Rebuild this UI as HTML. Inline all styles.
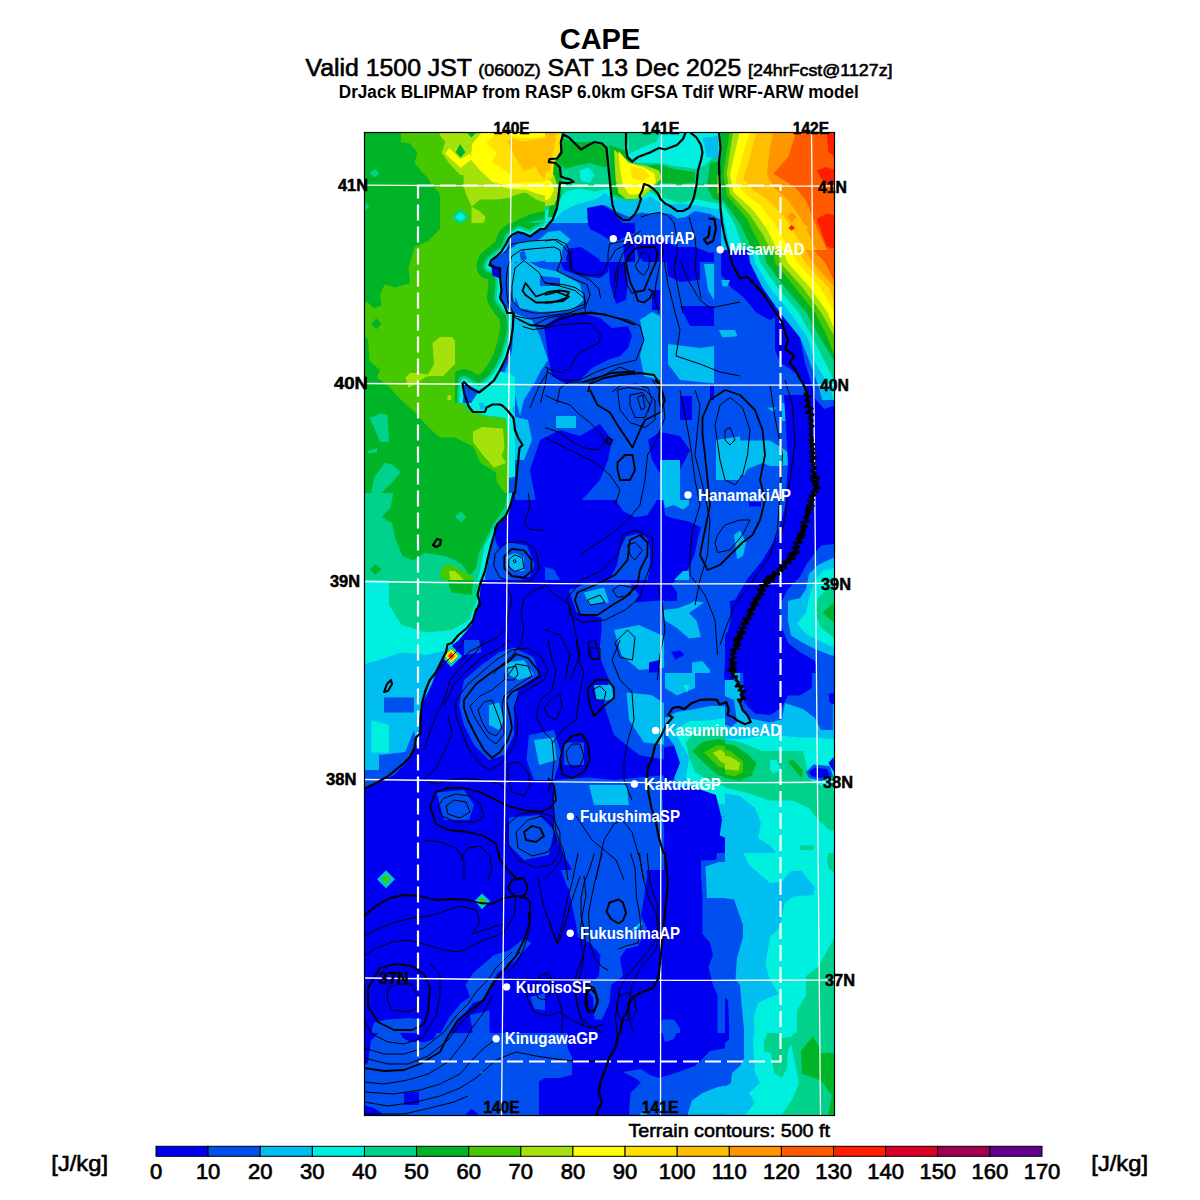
<!DOCTYPE html>
<html><head><meta charset="utf-8"><style>
html,body{margin:0;padding:0;background:#fff;width:1200px;height:1200px;overflow:hidden}
svg{display:block}
text{font-family:"Liberation Sans",sans-serif;fill:#000}
</style></head><body>
<svg width="1200" height="1200" viewBox="0 0 1200 1200">
<text x="600" y="49" font-size="29" font-weight="bold" text-anchor="middle">CAPE</text>
<text x="305.5" y="76" font-size="23" stroke="#000" stroke-width="0.6" textLength="587" lengthAdjust="spacingAndGlyphs">Valid 1500 JST <tspan font-size="16.5">(0600Z)</tspan> SAT 13 Dec 2025 <tspan font-size="16.5">[24hrFcst@1127z]</tspan></text>
<text x="338.8" y="98.3" font-size="17.5" font-weight="bold" textLength="520" lengthAdjust="spacingAndGlyphs">DrJack BLIPMAP from RASP 6.0km GFSA Tdif WRF-ARW model</text>

<defs><clipPath id="mc"><rect x="364" y="132" width="471" height="984"/></clipPath></defs>
<g clip-path="url(#mc)"><rect x="364" y="132" width="471" height="984" fill="#0050f0"/>
<g clip-path="url(#c0)"><rect x="365" y="133" width="180" height="180" fill="#46c800"/>
<polygon points="363.5,131.5 401.0,131.5 401.0,142.0 410.0,143.5 417.5,152.5 414.5,163.0 422.0,172.0 428.0,178.0 431.0,184.0 438.5,191.5 440.0,196.0 440.0,229.0 428.0,241.0 414.5,247.0 408.5,268.0 410.0,283.0 395.0,287.5 384.5,284.5 380.0,295.0 381.5,305.5 374.0,308.5 368.0,302.5 363.5,301.0" fill="#00b428"/>
<polygon points="369.5,173.5 374.8,169.0 379.2,173.2 374.8,177.2" fill="#00d28c"/>
<polygon points="363.5,200.5 369.5,206.5 363.5,212.5" fill="#00d28c"/>
<polygon points="439.1,132.1 545.9,132.1 545.9,203.0 536.2,199.5 527.5,193.4 523.1,192.5 513.5,196.0 510.0,197.8 496.0,199.5 480.2,199.5 471.5,206.5 466.2,194.2 463.6,186.4 463.6,175.0 460.1,175.0 448.8,162.8 441.8,153.1 445.2,141.8 440.0,135.6" fill="#a5e10a"/>
<polygon points="471.5,206.5 480.2,211.8 485.5,217.0 482.9,225.8 471.5,225.8" fill="#a5e10a"/>
<polygon points="466.2,132.1 476.8,132.1 471.5,137.4" fill="#00b428"/>
<polygon points="482.0,132.1 545.9,132.1 545.9,196.0 536.2,193.4 527.5,189.9 511.8,189.0 503.0,187.2 501.2,184.6 492.5,182.0 479.4,169.8 470.6,159.2 472.4,143.5" fill="#ffff00"/>
<polygon points="445.2,153.6 449.2,148.3 460.6,159.2 469.8,153.6 471.5,159.2 460.6,168.0" fill="#ffff00"/>
<polygon points="455.8,152.2 460.1,143.9 465.4,152.2 460.6,157.5" fill="#00b428"/>
<polygon points="496.0,132.1 510.0,132.1 511.8,136.5 527.5,138.2 545.9,136.5 545.9,182.0 536.2,182.0 511.8,182.9 510.9,174.1 501.2,168.0 491.6,161.9 496.9,153.1 486.4,142.6 492.5,137.4" fill="#ffe000"/>
<polygon points="507.4,140.9 512.6,138.2 522.2,141.8 545.9,138.2 545.9,179.4 538.9,174.1 536.2,166.2 524.0,171.5 518.8,163.6 512.6,152.2" fill="#ffbe00"/>
<polygon points="451.4,217.4 460.6,209.1 468.9,217.4 460.6,224.9" fill="#00d28c"/>
<polygon points="454.9,217.0 460.6,211.8 466.2,217.0 460.6,221.4" fill="#00f0e0"/>
<polygon points="476.0,314.5 476.0,290.5 483.5,268.0 489.5,250.0 500.0,230.5 515.0,221.5 530.0,214.0 546.5,211.0 546.5,314.5" fill="#00b428"/>
<polygon points="483.5,314.5 485.0,283.0 488.0,266.5 495.5,250.0 506.0,236.5 516.5,227.5 531.5,221.5 546.5,218.5 546.5,314.5" fill="#00d28c"/>
<polygon points="486.5,314.5 488.0,274.0 494.0,257.5 506.0,241.0 515.0,235.0 528.5,232.0 539.0,226.0 546.5,224.5 546.5,314.5" fill="#00f0e0"/>
<polygon points="491.0,314.5 491.0,268.0 500.0,253.0 509.0,239.5 519.5,233.5 527.0,238.0 540.5,229.0 546.5,227.5 546.5,314.5" fill="#00bef0"/>
<polygon points="498.5,256.0 509.0,241.0 518.0,238.0 515.0,247.0 509.0,253.0 504.5,268.0 503.0,314.5 497.0,314.5 500.0,280.0" fill="#0050f0"/>
<polygon points="490.2,265.0 497.0,265.0 500.0,274.0 498.5,280.0 491.0,277.0" fill="#0000f0"/>
</g>
<g clip-path="url(#c1)"><rect x="545" y="133" width="180" height="180" fill="#0050f0"/>
<polygon points="543.5,131.5 726.5,131.5 726.5,223.0 710.0,214.0 695.0,211.0 686.0,217.0 677.0,218.5 671.0,214.0 659.0,212.5 650.0,214.0 641.0,212.5 629.0,217.0 615.5,211.0 605.0,205.0 594.5,208.0 587.0,217.0 590.0,230.5 590.0,241.0 578.0,238.0 563.0,229.0 554.0,238.0 543.5,241.0" fill="#00bef0"/>
<polygon points="543.5,244.0 560.0,247.0 561.5,265.0 543.5,265.0" fill="#00bef0"/>
<polygon points="543.5,131.5 726.5,131.5 726.5,211.0 710.0,208.0 695.0,205.0 680.0,203.5 665.0,205.0 659.0,202.0 650.0,196.0 644.0,199.0 635.0,197.5 629.0,200.5 612.5,199.0 605.0,193.0 596.0,199.0 585.5,202.0 575.0,205.0 563.0,211.0 554.0,220.0 543.5,229.0" fill="#00f0e0"/>
<polygon points="543.5,131.5 608.0,131.5 609.5,148.0 611.0,178.0 609.5,188.5 594.5,191.5 579.5,188.5 566.0,191.5 560.0,197.5 554.0,208.0 543.5,211.0" fill="#00d28c"/>
<polygon points="608.0,131.5 629.0,131.5 626.0,157.0 638.0,163.0 659.0,163.0 674.0,166.0 687.5,167.5 695.0,169.0 704.0,166.0 713.0,157.0 726.5,157.0 726.5,205.0 710.0,202.0 695.0,199.0 680.0,203.5 668.0,199.0 659.0,197.5 650.0,191.5 641.0,199.0 629.0,202.0 617.0,199.0 611.0,196.0" fill="#00d28c"/>
<polygon points="629.0,131.5 662.0,131.5 656.0,142.0 641.0,148.0 629.0,154.0" fill="#00d28c"/>
<polygon points="702.5,137.5 717.5,136.0 719.0,158.5 707.0,157.0" fill="#00bef0"/>
<polygon points="579.5,170.5 588.5,167.5 594.5,175.0 590.0,182.5 581.0,181.0" fill="#00f0e0"/>
<polygon points="560.0,137.5 575.0,142.0 590.0,142.0 608.0,146.5 609.5,163.0 605.0,167.5 590.0,163.0 575.0,166.0 566.0,169.0 560.0,163.0" fill="#00b428"/>
<polygon points="554.0,155.5 561.5,155.5 561.5,196.0 554.0,217.0 548.0,217.0 551.0,193.0" fill="#00b428"/>
<polygon points="609.5,145.0 626.0,151.0 629.0,163.0 641.0,166.0 659.0,164.5 674.0,169.0 695.0,172.0 695.0,182.5 680.0,184.0 662.0,182.5 650.0,185.5 641.0,196.0 635.0,199.0 626.0,199.0 617.0,196.0 611.0,193.0" fill="#00b428"/>
<polygon points="710.0,163.0 726.5,160.0 726.5,202.0 713.0,199.0 707.0,185.5" fill="#00b428"/>
<polygon points="614.0,149.5 629.0,163.0 647.0,166.0 659.0,170.5 662.0,178.0 653.0,187.0 644.0,196.0 635.0,199.0 626.0,199.0 618.5,193.0 615.5,178.0" fill="#a5e10a"/>
<polygon points="543.5,170.5 554.0,175.0 560.0,193.0 554.0,205.0 543.5,206.5" fill="#a5e10a"/>
<polygon points="717.5,175.0 726.5,175.0 726.5,196.0 717.5,193.0" fill="#a5e10a"/>
<polygon points="618.5,151.0 629.0,163.0 644.0,167.5 654.5,173.5 656.0,182.5 647.0,188.5 638.0,194.5 629.0,194.5 623.0,185.5 620.0,169.0" fill="#ffff00"/>
<polygon points="543.5,178.0 551.0,181.0 554.0,190.0 549.5,199.0 543.5,200.5" fill="#ffff00"/>
<polygon points="630.5,166.0 644.0,169.0 650.0,176.5 642.5,181.0 632.0,178.0" fill="#ffe000"/>
<polygon points="543.5,131.5 561.5,131.5 560.0,151.0 554.0,163.0 552.5,178.0 543.5,181.0" fill="#ffe000"/>
<polygon points="543.5,131.5 557.0,131.5 554.0,148.0 549.5,170.5 543.5,173.5" fill="#ffbe00"/>
<polygon points="587.0,208.0 602.0,205.0 612.5,211.0 617.0,217.0 623.0,223.0 629.0,230.5 620.0,241.0 614.0,247.0 608.0,241.0 594.5,238.0 588.5,229.0" fill="#0000f0"/>
<polygon points="567.5,247.0 582.5,241.0 597.5,247.0 608.0,247.0 611.0,253.0 608.0,268.0 602.0,283.0 584.0,277.0 569.0,271.0 563.0,262.0" fill="#0000f0"/>
<polygon points="635.0,241.0 650.0,238.0 665.0,241.0 677.0,247.0 695.0,247.0 710.0,253.0 726.5,250.0 726.5,314.5 677.0,314.5 668.0,298.0 659.0,283.0 650.0,268.0 638.0,256.0" fill="#0000f0"/>
<polygon points="543.5,292.0 567.5,289.0 587.0,292.0 588.5,305.5 575.0,314.5 543.5,314.5" fill="#0000f0"/>
<polygon points="704.0,265.0 726.5,263.5 726.5,283.0 707.0,283.0" fill="#00bef0"/>
</g>
<g clip-path="url(#c2)"><rect x="725" y="133" width="120" height="180" fill="#0050f0"/>
<polygon points="723.5,241.0 734.0,256.0 743.0,280.0 762.5,298.0 770.0,314.5 723.5,314.5" fill="#0000f0"/>
<polygon points="723.5,131.5 846.5,131.5 846.5,314.5 776.0,314.5 762.5,287.5 747.5,268.0 734.0,247.0 723.5,230.5" fill="#00bef0"/>
<polygon points="723.5,131.5 846.5,131.5 846.5,314.5 780.5,314.5 768.5,286.0 755.0,265.0 737.0,239.5 723.5,224.5" fill="#00f0e0"/>
<polygon points="723.5,131.5 846.5,131.5 846.5,314.5 791.0,314.5 785.0,292.0 770.0,268.0 755.0,250.0 740.0,227.5 723.5,218.5" fill="#00d28c"/>
<polygon points="723.5,131.5 846.5,131.5 846.5,314.5 803.0,314.5 792.5,284.5 777.5,265.0 762.5,247.0 743.0,224.5 723.5,211.0" fill="#00b428"/>
<polygon points="723.5,131.5 738.5,131.5 734.0,146.5 723.5,149.5" fill="#00d28c"/>
<polygon points="755.0,131.5 846.5,131.5 846.5,314.5 815.0,314.5 809.0,298.0 797.0,278.5 782.0,260.5 767.0,241.0 747.5,218.5 723.5,206.5 723.5,173.5 740.0,164.5 752.0,149.5" fill="#46c800"/>
<polygon points="759.5,131.5 846.5,131.5 846.5,314.5 833.0,314.5 830.0,305.5 815.0,295.0 800.0,274.0 785.0,256.0 770.0,238.0 752.0,217.0 723.5,200.5 723.5,178.0 743.0,169.0 755.0,152.5" fill="#a5e10a"/>
<polygon points="764.0,131.5 846.5,131.5 846.5,298.0 834.5,295.0 818.0,283.0 804.5,268.0 789.5,253.0 774.5,235.0 755.0,214.0 723.5,194.5 723.5,182.5 746.0,172.0 759.5,154.0" fill="#ffff00"/>
<polygon points="773.0,131.5 846.5,131.5 846.5,277.0 834.5,277.0 815.0,268.0 797.0,250.0 777.5,230.5 761.0,211.0 740.0,196.0 731.0,191.5 734.0,182.5 747.5,175.0 767.0,163.0 770.0,148.0" fill="#ffe000"/>
<polygon points="777.5,131.5 846.5,131.5 846.5,268.0 830.0,265.0 813.5,253.0 800.0,238.0 788.0,226.0 774.5,208.0 755.0,197.5 740.0,193.0 752.0,181.0 770.0,172.0 777.5,155.5" fill="#ffbe00"/>
<polygon points="788.0,131.5 846.5,131.5 846.5,262.0 833.0,257.5 821.0,247.0 810.5,238.0 800.0,226.0 785.0,208.0 770.0,196.0 762.5,187.0 770.0,178.0 782.0,170.5 785.0,151.0" fill="#ff9600"/>
<polygon points="797.0,131.5 846.5,131.5 846.5,256.0 836.0,253.0 828.5,244.0 821.0,230.5 812.0,215.5 803.0,202.0 788.0,193.0 770.0,187.0 768.5,175.0 788.0,170.5 806.0,167.5 797.0,154.0 794.0,142.0" fill="#ff5a00"/>
<polygon points="786.5,216.2 791.0,211.0 795.5,216.2 791.0,221.5" fill="#ff9600"/>
<polygon points="797.0,227.5 802.2,222.2 807.5,227.5 802.2,232.8" fill="#ffbe00"/>
<polygon points="821.0,178.0 833.8,172.0 833.8,199.0 824.0,193.0" fill="#ff1e00"/>
<polygon points="815.0,220.0 830.0,217.0 833.8,223.0 833.8,245.5 828.5,238.0" fill="#ff1e00"/>
<polygon points="828.5,131.5 833.8,131.5 833.8,149.5 830.0,148.0" fill="#ff1e00"/>
<polygon points="830.0,235.0 833.8,235.0 833.8,244.0 831.5,244.0" fill="#dc0028"/>
</g>
<g clip-path="url(#c3)"><rect x="365" y="313" width="180" height="180" fill="#46c800"/>
<polygon points="363.5,334.0 368.0,340.0 369.5,361.0 380.0,370.0 377.0,377.5 387.5,385.0 398.0,397.0 414.5,412.0 428.0,427.0 440.0,437.5 455.0,437.5 473.0,446.5 480.5,463.0 495.5,472.0 497.0,482.5 506.0,494.5 363.5,494.5" fill="#00b428"/>
<polygon points="371.0,323.5 376.2,318.2 381.5,323.5 376.2,329.5" fill="#00b428"/>
<polygon points="488.0,311.5 497.0,311.5 500.0,328.0 509.0,328.0 509.0,373.0 497.0,379.0 492.5,370.0 494.0,358.0 491.0,343.0" fill="#00b428"/>
<polygon points="369.5,418.0 380.0,413.5 387.5,415.0 389.0,442.0 380.0,442.0 374.0,427.0" fill="#00d28c"/>
<polygon points="368.0,451.0 377.0,448.0 377.0,452.5 368.0,453.2" fill="#00d28c"/>
<polygon points="374.0,478.0 384.5,463.0 392.0,464.5 401.0,472.0 392.0,482.5 380.0,494.5 371.0,494.5" fill="#00d28c"/>
<polygon points="432.5,343.0 440.0,337.0 452.0,337.0 461.0,349.0 471.5,350.5 471.5,359.5 458.0,361.0 443.0,376.0 429.5,376.0 425.0,377.5 408.5,388.0 405.5,377.5 410.0,373.0 417.5,373.0 428.0,374.5 434.0,364.0" fill="#a5e10a"/>
<polygon points="470.0,373.0 473.0,371.5 473.0,380.5 470.0,382.0" fill="#a5e10a"/>
<polygon points="447.5,395.5 451.2,394.8 451.2,400.0 447.5,400.0" fill="#a5e10a"/>
<polygon points="473.0,431.5 482.0,427.0 503.0,428.5 504.5,448.0 501.5,455.5 506.0,463.0 494.0,467.5 482.0,454.0 473.0,442.0" fill="#a5e10a"/>
<polygon points="497.0,311.5 509.0,311.5 509.0,347.5 500.0,365.5 492.5,376.0 485.0,383.5 464.0,383.5 456.5,398.5 470.0,412.0 485.0,416.5 506.0,418.0 509.0,433.0 509.0,494.5 546.5,494.5 546.5,311.5" fill="#00d28c"/>
<polygon points="500.0,311.5 546.5,311.5 546.5,494.5 509.0,494.5 509.0,448.0 506.0,418.0 485.0,415.0 470.0,409.0 461.0,397.0 467.0,388.0 485.0,386.5 497.0,376.0 506.0,358.0 509.0,343.0 503.0,328.0" fill="#00f0e0"/>
<polygon points="512.0,311.5 546.5,311.5 546.5,478.0 524.0,478.0 515.0,463.0 515.0,440.5 516.5,421.0 512.0,409.0 521.0,397.0 515.0,385.0 513.5,373.0 512.0,358.0 513.5,343.0" fill="#00bef0"/>
<polygon points="479.0,403.0 483.5,401.5 485.0,409.0 480.5,409.8" fill="#00bef0"/>
<polygon points="513.5,311.5 546.5,311.5 546.5,331.0 530.0,331.0 522.5,325.0 515.0,322.0" fill="#0050f0"/>
<polygon points="534.5,352.0 545.0,353.5 545.0,358.0 537.5,359.5" fill="#0050f0"/>
<polygon points="528.5,428.5 536.0,427.0 536.0,433.0" fill="#0050f0"/>
<polygon points="539.0,445.0 546.5,442.0 546.5,457.0 540.5,454.0" fill="#0050f0"/>
<polygon points="509.0,460.0 546.5,460.0 546.5,478.0 509.0,478.0" fill="#00f0e0"/>
<polygon points="518.0,455.5 527.0,457.0 527.0,470.5 518.0,470.5" fill="#00d28c"/>
<polygon points="509.0,478.0 522.5,475.0 546.5,475.0 546.5,494.5 509.0,494.5" fill="#0050f0"/>
<polygon points="515.0,485.5 546.5,481.0 546.5,494.5 515.0,494.5" fill="#0000f0"/>
</g>
<g clip-path="url(#c4)"><rect x="545" y="313" width="180" height="180" fill="#0050f0"/>
<polygon points="554.0,311.5 635.0,311.5 644.0,320.5 641.0,335.5 644.0,349.0 635.0,358.0 611.0,362.5 593.0,367.0 582.5,376.0 575.0,385.0 564.5,383.5 554.0,373.0 552.5,364.0 557.0,355.0 561.5,343.0 554.0,334.0" fill="#0000f0"/>
<polygon points="674.0,311.5 726.5,311.5 726.5,322.0 710.0,325.0 687.5,325.0 677.0,320.5" fill="#0000f0"/>
<polygon points="543.5,436.0 554.0,430.0 575.0,433.0 590.0,442.0 608.0,436.0 611.0,427.0 617.0,445.0 612.5,463.0 608.0,494.5 543.5,494.5" fill="#0000f0"/>
<polygon points="611.0,415.0 620.0,412.0 629.0,421.0 635.0,433.0 632.0,448.0 623.0,442.0 615.5,433.0" fill="#0000f0"/>
<polygon points="647.0,433.0 662.0,427.0 677.0,430.0 687.5,445.0 690.5,463.0 680.0,467.5 665.0,463.0 659.0,454.0 650.0,454.0" fill="#0000f0"/>
<polygon points="680.0,397.0 686.0,395.5 704.0,409.0 695.0,421.0 683.0,422.5" fill="#0000f0"/>
<polygon points="714.5,400.0 725.0,397.0 725.0,410.5 716.0,410.5" fill="#0000f0"/>
<polygon points="692.0,472.0 704.0,470.5 710.0,485.5 707.0,494.5 692.0,494.5" fill="#0000f0"/>
<polygon points="650.0,311.5 662.0,311.5 662.0,328.0 672.5,329.5 683.0,335.5 680.0,349.0 674.0,356.5 662.0,358.0 653.0,346.0" fill="#00bef0"/>
<polygon points="665.0,358.0 677.0,358.0 692.0,358.0 707.0,355.0 716.0,343.0 726.5,337.0 726.5,362.5 708.5,365.5 698.0,377.5 683.0,383.5 671.0,391.0 665.0,379.0 668.0,365.5" fill="#00bef0"/>
<polygon points="543.5,397.0 554.0,403.0 575.0,418.0 570.5,424.0 554.0,421.0 543.5,418.0" fill="#00bef0"/>
<polygon points="543.5,457.0 551.0,454.0 554.0,475.0 548.0,478.0 543.5,478.0" fill="#00bef0"/>
<polygon points="558.5,479.5 569.0,476.5 575.0,484.0 567.5,490.0 560.0,487.0" fill="#00bef0"/>
<polygon points="659.0,463.0 668.0,463.0 677.0,472.0 680.0,494.5 659.0,494.5" fill="#00bef0"/>
<polygon points="714.5,439.0 726.5,436.0 726.5,463.0 717.5,460.0" fill="#00bef0"/>
<polygon points="672.5,404.5 677.0,406.0 675.5,412.0 672.5,410.5" fill="#00bef0"/>
</g>
<g clip-path="url(#c5)"><rect x="725" y="313" width="120" height="180" fill="#0050f0"/>
<polygon points="797.0,311.5 846.5,311.5 846.5,383.5 830.0,382.0 815.0,376.0 809.0,362.5 803.0,343.0 798.5,328.0" fill="#00bef0"/>
<polygon points="804.5,311.5 846.5,311.5 846.5,376.0 833.0,376.0 821.0,365.5 813.5,350.5 809.0,335.5" fill="#00f0e0"/>
<polygon points="812.0,311.5 846.5,311.5 846.5,355.0 830.0,352.0 821.0,343.0 815.0,328.0" fill="#00d28c"/>
<polygon points="818.0,311.5 846.5,311.5 846.5,349.0 833.0,346.0 822.5,335.5 819.5,322.0" fill="#00b428"/>
<polygon points="821.0,319.0 830.0,313.0 846.5,311.5 846.5,335.5 833.0,334.0 824.0,328.0" fill="#46c800"/>
<polygon points="828.5,311.5 846.5,311.5 846.5,322.0 833.0,319.0" fill="#a5e10a"/>
<polygon points="776.0,311.5 783.5,311.5 788.0,328.0 797.0,347.5 803.0,370.0 809.0,383.5 815.0,397.0 824.0,406.0 833.8,397.0 846.5,397.0 846.5,494.5 794.0,494.5 795.5,433.0 803.0,418.0 797.0,406.0 803.0,397.0 794.0,385.0 785.0,370.0 779.0,358.0 776.0,335.5" fill="#0000f0"/>
<polygon points="815.0,398.5 833.8,397.0 833.8,406.0 824.0,409.0" fill="#0050f0"/>
<polygon points="723.5,331.0 734.0,329.5 737.0,335.5 728.0,341.5 723.5,341.5" fill="#00bef0"/>
<polygon points="767.0,407.5 776.0,407.5 773.0,412.0" fill="#00bef0"/>
<polygon points="782.0,403.0 789.5,403.0 792.5,421.0 782.0,421.0" fill="#00bef0"/>
<polygon points="723.5,440.5 770.0,440.5 782.0,448.0 792.5,455.5 792.5,464.5 782.0,466.0 770.0,466.0 762.5,463.0 747.5,469.0 744.5,475.0 734.0,475.0 723.5,470.5" fill="#00bef0"/>
<polygon points="723.5,430.0 728.0,430.0 734.0,440.5 728.0,446.5 723.5,445.0" fill="#0000f0"/>
<polygon points="723.5,406.0 728.0,407.5 728.0,410.5 723.5,410.5" fill="#0000f0"/>
</g>
<g clip-path="url(#c6)"><rect x="365" y="493" width="180" height="180" fill="#00f0e0"/>
<polygon points="363.5,491.5 509.0,491.5 506.0,515.5 495.5,526.0 485.0,545.5 482.0,560.5 479.0,575.5 473.0,590.5 470.0,601.0 458.0,607.0 446.0,613.0 443.0,625.0 431.0,628.0 419.0,626.5 410.0,620.5 398.0,607.0 383.0,598.0 371.0,589.0 363.5,586.0" fill="#00d28c"/>
<polygon points="393.5,491.5 507.5,491.5 504.5,508.0 494.0,523.0 488.0,535.0 479.0,553.0 476.0,568.0 470.0,575.5 461.0,563.5 446.0,556.0 425.0,553.0 413.0,560.5 402.5,556.0 395.0,538.0 392.0,523.0 381.5,517.0 390.5,508.0" fill="#00b428"/>
<polygon points="369.5,569.5 375.5,564.2 381.5,569.5 375.5,574.8" fill="#00b428"/>
<polygon points="455.0,516.2 461.0,511.8 466.2,517.0 461.0,522.2" fill="#00d28c"/>
<polygon points="441.5,568.0 449.0,563.5 458.0,568.0 473.0,577.0 473.0,598.0 467.0,595.0 458.0,586.0 446.0,583.0 440.0,577.0" fill="#46c800"/>
<polygon points="449.0,571.0 455.0,571.0 464.0,580.0 455.0,583.0 450.5,581.5" fill="#a5e10a"/>
<polygon points="380.0,653.5 402.5,649.0 422.0,643.0 440.0,641.5 449.0,643.0 458.0,637.0 470.0,622.0 476.0,602.5 480.5,586.0 485.0,577.0 488.0,563.5 489.5,550.0 494.0,538.0 500.0,527.5 507.5,515.5 513.5,491.5 546.5,491.5 546.5,674.5 374.0,674.5 375.5,661.0" fill="#00bef0"/>
<polygon points="485.0,577.0 489.5,556.0 494.0,538.0 503.0,527.5 509.0,514.0 513.5,491.5 546.5,491.5 546.5,674.5 419.0,674.5 422.0,662.5 440.0,661.0 446.0,649.0 458.0,641.5 473.0,628.0 479.0,613.0 488.0,602.5 497.0,601.0 488.0,589.0" fill="#0050f0"/>
<polygon points="485.0,601.0 494.0,601.0 500.0,610.0 494.0,619.0 482.0,625.0 473.0,628.0 476.0,613.0" fill="#00bef0"/>
<polygon points="494.0,527.5 509.0,514.0 513.5,491.5 546.5,491.5 546.5,583.0 530.0,581.5 515.0,577.0 509.0,563.5 500.0,550.0 495.5,541.0" fill="#0000f0"/>
<polygon points="497.0,550.0 509.0,542.5 527.0,545.5 534.5,565.0 530.0,577.0 515.0,577.0 501.5,568.0" fill="#0050f0"/>
<polygon points="507.5,556.0 515.0,553.0 524.0,557.5 524.0,571.0 513.5,571.0 507.5,563.5" fill="#00bef0"/>
<polygon points="488.0,583.0 500.0,584.5 515.0,590.5 530.0,590.5 546.5,586.0 546.5,674.5 455.0,674.5 461.0,658.0 473.0,650.5 482.0,640.0 500.0,634.0 503.0,628.0 497.0,620.5 500.0,613.0 494.0,601.0" fill="#0000f0"/>
<polygon points="507.5,650.5 546.5,649.0 546.5,674.5 507.5,674.5" fill="#0050f0"/>
<polygon points="506.0,634.0 515.0,634.0 515.0,643.0 506.0,643.0" fill="#00bef0"/>
<polygon points="507.5,665.5 522.5,665.5 522.5,674.5 507.5,674.5" fill="#00bef0"/>
<polygon points="443.0,655.8 450.5,647.5 458.8,655.8 450.5,664.0" fill="#00d28c"/>
<polygon points="444.5,655.8 450.5,649.8 456.8,655.8 450.5,661.8" fill="#ffff00"/>
<polygon points="446.0,655.8 450.5,651.2 455.0,655.8 450.5,660.2" fill="#ff9600"/>
<polygon points="447.5,655.8 450.5,652.8 453.5,655.8 450.5,658.8" fill="#ff1e00"/>
</g>
<g clip-path="url(#c7)"><rect x="545" y="493" width="180" height="180" fill="#0000f0"/>
<polygon points="614.0,491.5 657.5,491.5 656.0,502.0 647.0,515.5 635.0,517.0 623.0,511.0 617.0,502.0" fill="#0050f0"/>
<polygon points="662.0,491.5 726.5,491.5 726.5,674.5 662.0,674.5 659.0,643.0 647.0,631.0 638.0,622.0 650.0,610.0 662.0,601.0 677.0,601.0 677.0,592.0 671.0,584.5 680.0,577.0 689.0,568.0 695.0,553.0 698.0,538.0 701.0,527.5 689.0,521.5 674.0,518.5 665.0,515.5" fill="#0050f0"/>
<polygon points="575.0,598.0 584.0,589.0 597.5,583.0 611.0,577.0 617.0,565.0 620.0,550.0 626.0,536.5 638.0,533.5 647.0,538.0 650.0,550.0 650.0,568.0 647.0,583.0 641.0,601.0 629.0,610.0 611.0,613.0 599.0,616.0 578.0,616.0" fill="#0050f0"/>
<polygon points="543.5,566.5 554.0,569.5 560.0,580.0 543.5,581.5" fill="#0050f0"/>
<polygon points="611.0,628.0 626.0,622.0 638.0,625.0 650.0,634.0 659.0,643.0 665.0,674.5 620.0,674.5 614.0,658.0 612.5,643.0" fill="#0050f0"/>
<polygon points="662.0,491.5 689.0,491.5 689.0,505.0 683.0,509.5 674.0,505.0 665.0,508.0" fill="#00bef0"/>
<polygon points="674.0,580.0 683.0,571.0 689.0,571.0 689.0,580.0" fill="#00bef0"/>
<polygon points="662.0,610.0 677.0,608.5 689.0,604.0 695.0,601.0 704.0,602.5 689.0,613.0 696.5,620.5 701.0,637.0 689.0,638.5 677.0,628.0 665.0,620.5" fill="#00bef0"/>
<polygon points="618.5,632.5 626.0,631.0 638.0,637.0 650.0,643.0 659.0,655.0 662.0,674.5 638.0,674.5 629.0,662.5 623.0,646.0" fill="#00bef0"/>
<polygon points="692.0,662.5 702.5,661.0 710.0,670.0 710.0,674.5 692.0,674.5" fill="#00bef0"/>
<polygon points="650.0,491.5 656.0,491.5 656.0,497.5 650.0,497.5" fill="#00f0e0"/>
<polygon points="671.0,652.0 680.0,650.5 684.5,655.0 675.5,659.5" fill="#0000f0"/>
<polygon points="648.5,664.0 653.0,662.5 656.0,670.0 650.0,671.5" fill="#0000f0"/>
</g>
<g clip-path="url(#c8)"><rect x="725" y="493" width="120" height="180" fill="#0000f0"/>
<polygon points="723.5,491.5 794.0,491.5 791.0,511.0 788.0,530.5 782.0,550.0 774.5,563.5 764.0,577.0 750.5,589.0 743.0,598.0 740.0,613.0 734.0,625.0 723.5,637.0" fill="#0050f0"/>
<polygon points="788.0,589.0 800.0,577.0 806.0,565.0 815.0,553.0 821.0,545.5 833.8,544.0 846.5,544.0 846.5,674.5 818.0,674.5 815.0,661.0 800.0,652.0 788.0,643.0 782.0,628.0 779.0,607.0" fill="#0050f0"/>
<polygon points="788.0,601.0 800.0,598.0 806.0,589.0 809.0,574.0 818.0,565.0 833.8,557.5 846.5,557.5 846.5,658.0 830.0,655.0 815.0,649.0 803.0,643.0 791.0,635.5 788.0,620.5" fill="#00bef0"/>
<polygon points="797.0,623.5 806.0,613.0 809.0,598.0 815.0,580.0 822.5,571.0 833.8,568.0 846.5,568.0 846.5,652.0 830.0,646.0 818.0,640.0 806.0,634.0" fill="#00f0e0"/>
<polygon points="815.0,613.0 818.0,598.0 827.0,589.0 833.8,586.0 846.5,586.0 846.5,640.0 833.0,637.0 821.0,628.0" fill="#00d28c"/>
<polygon points="822.5,613.0 833.8,602.5 833.8,622.0" fill="#00b428"/>
<polygon points="734.0,535.0 740.0,530.5 746.0,542.5 743.0,556.0 737.0,559.0 735.5,545.5" fill="#00bef0"/>
<polygon points="749.0,502.0 761.0,502.0 761.0,506.5 749.0,506.5" fill="#0000f0"/>
<polygon points="729.5,601.0 744.5,598.0 747.5,610.0 740.0,622.0 731.0,619.0" fill="#0000f0"/>
</g>
<g clip-path="url(#c9)"><rect x="365" y="673" width="180" height="180" fill="#0000f0"/>
<polygon points="363.5,671.5 414.5,671.5 419.0,682.0 422.0,695.5 420.5,718.0 419.0,733.0 410.0,748.0 395.0,763.0 380.0,769.0 363.5,770.5" fill="#00bef0"/>
<polygon points="384.5,697.0 396.5,698.5 402.5,709.0 384.5,712.0" fill="#0050f0"/>
<polygon points="405.5,715.0 413.0,712.0 419.0,727.0 410.0,733.0 404.0,722.5" fill="#0050f0"/>
<polygon points="414.5,671.5 422.0,671.5 425.0,688.0 422.0,725.5 419.0,733.0 416.0,718.0" fill="#0050f0"/>
<polygon points="363.5,671.5 374.0,671.5 371.0,685.0 363.5,691.0" fill="#00f0e0"/>
<polygon points="363.5,730.0 374.0,722.5 383.0,727.0 389.0,739.0 384.5,751.0 374.0,754.0 363.5,751.0" fill="#00f0e0"/>
<polygon points="363.5,763.0 380.0,763.0 395.0,757.0 410.0,748.0 407.0,757.0 395.0,766.0 380.0,770.5 363.5,770.5" fill="#0050f0"/>
<polygon points="480.5,701.5 494.0,698.5 500.0,703.0 503.0,712.0 504.5,730.0 494.0,730.0 488.0,718.0 482.0,710.5" fill="#0050f0"/>
<polygon points="503.0,671.5 546.5,671.5 546.5,682.0 530.0,682.0 515.0,688.0 506.0,691.0" fill="#0050f0"/>
<polygon points="485.0,700.0 494.0,688.0 506.0,679.0 506.0,703.0 497.0,703.0" fill="#0050f0"/>
<polygon points="530.0,742.0 545.0,739.0 546.5,778.0 542.0,778.0 536.0,763.0 530.0,751.0" fill="#0050f0"/>
</g>
<g clip-path="url(#c10)"><rect x="545" y="673" width="180" height="180" fill="#0050f0"/>
<polygon points="543.5,671.5 585.5,671.5 584.0,691.0 587.0,718.0 575.0,730.0 560.0,739.0 557.0,763.0 555.5,782.5 543.5,782.5" fill="#0000f0"/>
<polygon points="614.0,671.5 629.0,671.5 632.0,688.0 626.0,703.0 617.0,700.0" fill="#0000f0"/>
<polygon points="590.0,718.0 605.0,706.0 617.0,712.0 626.0,725.5 635.0,742.0 650.0,745.0 662.0,748.0 677.0,745.0 687.5,754.0 689.0,769.0 680.0,778.0 665.0,781.0 650.0,790.0 641.0,797.5 629.0,793.0 615.5,787.0 608.0,778.0 593.0,781.0 590.0,763.0 594.5,740.5" fill="#0000f0"/>
<polygon points="662.0,790.0 672.5,793.0 680.0,808.0 695.0,823.0 710.0,829.0 726.5,838.0 726.5,854.5 665.0,854.5 659.0,823.0" fill="#0000f0"/>
<polygon points="543.5,800.5 554.0,793.0 563.0,805.0 575.0,823.0 572.0,838.0 560.0,854.5 543.5,854.5" fill="#0000f0"/>
<polygon points="602.0,823.0 617.0,820.0 629.0,830.5 635.0,854.5 599.0,854.5" fill="#0000f0"/>
<polygon points="626.0,703.0 641.0,706.0 659.0,703.0 662.0,718.0 659.0,736.0 650.0,740.5 638.0,739.0 632.0,730.0" fill="#00bef0"/>
<polygon points="599.0,692.5 608.0,691.0 608.0,701.5 600.5,701.5" fill="#00bef0"/>
<polygon points="665.0,671.5 695.0,671.5 695.0,688.0 677.0,695.5 665.0,688.0" fill="#00bef0"/>
<polygon points="683.0,685.0 689.0,685.0 687.5,692.5" fill="#00f0e0"/>
<polygon points="665.0,718.0 677.0,712.0 695.0,709.0 710.0,706.0 726.5,706.0 726.5,817.0 710.0,814.0 695.0,805.0 680.0,793.0 674.0,778.0 680.0,763.0 674.0,745.0 665.0,733.0" fill="#00bef0"/>
<polygon points="674.0,730.0 689.0,721.0 704.0,721.0 726.5,718.0 726.5,805.0 710.0,802.0 695.0,793.0 686.0,778.0 689.0,757.0 680.0,742.0" fill="#00f0e0"/>
<polygon points="686.0,742.0 695.0,733.0 710.0,730.0 726.5,730.0 726.5,787.0 710.0,781.0 695.0,772.0 689.0,757.0" fill="#00d28c"/>
<polygon points="692.0,751.0 702.5,742.0 717.5,739.0 726.5,740.5 726.5,778.0 717.5,775.0 704.0,763.0" fill="#00b428"/>
<polygon points="704.0,752.5 717.5,745.0 726.5,746.5 726.5,769.0 717.5,766.0" fill="#46c800"/>
<polygon points="713.0,752.5 720.5,749.5 726.5,754.0 726.5,764.5 720.5,761.5" fill="#a5e10a"/>
<polygon points="695.0,823.0 710.0,815.5 726.5,817.0 726.5,838.0 710.0,832.0" fill="#00bef0"/>
</g>
<g clip-path="url(#c11)"><rect x="725" y="673" width="120" height="180" fill="#00f0e0"/>
<polygon points="723.5,671.5 846.5,671.5 846.5,739.0 830.0,739.0 815.0,737.5 800.0,737.5 785.0,736.0 762.5,736.0 740.0,739.0 723.5,739.0" fill="#00bef0"/>
<polygon points="723.5,793.0 740.0,796.0 755.0,808.0 761.0,823.0 758.0,838.0 770.0,845.5 777.5,854.5 723.5,854.5" fill="#00bef0"/>
<polygon points="740.0,671.5 846.5,671.5 846.5,688.0 833.0,703.0 833.0,730.0 821.0,730.0 815.0,718.0 803.0,709.0 785.0,703.0 782.0,719.5 770.0,722.5 747.5,718.0 740.0,703.0" fill="#0050f0"/>
<polygon points="723.5,695.5 734.0,700.0 737.0,722.5 731.0,727.0 723.5,724.0" fill="#0050f0"/>
<polygon points="743.0,671.5 812.0,671.5 812.0,688.0 800.0,695.5 788.0,695.5 782.0,707.5 770.0,715.0 755.0,713.5 744.5,703.0" fill="#0000f0"/>
<polygon points="828.5,694.0 833.8,692.5 833.8,704.5 830.0,703.0" fill="#0000f0"/>
<polygon points="723.5,739.0 740.0,742.0 762.5,751.0 785.0,751.0 803.0,751.0 806.0,763.0 809.0,778.0 822.5,787.0 833.0,787.0 833.8,793.0 846.5,793.0 846.5,830.5 830.0,830.5 818.0,820.0 809.0,808.0 792.5,800.5 770.0,800.5 747.5,793.0 723.5,787.0" fill="#00d28c"/>
<polygon points="723.5,743.5 734.0,745.0 747.5,754.0 756.5,763.0 752.0,775.0 740.0,781.0 723.5,778.0" fill="#00b428"/>
<polygon points="788.0,761.5 792.5,759.2 803.0,770.5 801.5,778.0 794.0,769.0" fill="#00b428"/>
<polygon points="723.5,749.5 731.0,751.0 743.0,761.5 743.0,772.0 734.0,776.5 723.5,773.5" fill="#46c800"/>
<polygon points="723.5,755.5 731.0,757.0 740.0,763.0 738.5,770.5 723.5,769.0" fill="#a5e10a"/>
<polygon points="770.0,760.0 776.0,760.0 782.0,770.5 773.0,773.5 770.0,769.0" fill="#00f0e0"/>
<polygon points="806.0,757.0 818.0,751.0 830.0,757.0 833.0,766.0 815.0,766.0" fill="#00f0e0"/>
<polygon points="806.0,772.0 813.5,764.5 830.0,766.0 833.0,776.5 821.0,781.0 809.0,778.0" fill="#0050f0"/>
<polygon points="809.0,772.0 815.0,767.5 827.0,769.0 830.0,775.0 821.0,778.0 812.0,776.5" fill="#0000f0"/>
<polygon points="828.5,763.0 833.8,757.0 833.8,772.0" fill="#0000f0"/>
<polygon points="800.0,845.5 813.5,845.5 813.5,850.0 800.0,850.0" fill="#00d28c"/>
</g>
<g clip-path="url(#c12)"><rect x="365" y="853" width="180" height="180" fill="#0000f0"/>
<polygon points="465.5,985.0 473.0,973.0 494.0,955.0 509.0,950.5 524.0,938.5 531.5,943.0 524.0,950.5 515.0,961.0 497.0,973.0 491.0,985.0 482.0,1000.0 473.0,1003.0 461.0,1018.0 449.0,1034.5 440.0,1034.5 449.0,1018.0 461.0,1003.0 470.0,997.0" fill="#0050f0"/>
<polygon points="374.0,1022.5 387.5,1019.5 410.0,1018.0 422.0,1019.5 416.0,1034.5 371.0,1034.5" fill="#0050f0"/>
<polygon points="530.0,997.0 542.0,994.0 546.5,992.5 546.5,1010.5 534.5,1009.0" fill="#0050f0"/>
<polygon points="539.0,851.5 546.5,851.5 546.5,862.0 542.0,859.0" fill="#0050f0"/>
<polygon points="470.0,1015.0 489.5,1010.5 489.5,1034.5 473.0,1034.5" fill="#0050f0"/>
<polygon points="377.0,879.2 386.0,870.2 395.0,879.2 386.0,888.2" fill="#00bef0"/>
<polygon points="379.2,879.2 386.0,872.5 392.8,879.2 386.0,886.0" fill="#00d28c"/>
<polygon points="382.2,879.2 386.0,875.5 389.8,879.2 386.0,883.0" fill="#46c800"/>
<polygon points="474.5,901.0 482.0,893.5 490.2,901.0 482.0,909.2" fill="#00bef0"/>
<polygon points="476.8,901.0 482.0,895.8 488.0,901.0 482.0,907.0" fill="#00d28c"/>
<polygon points="479.0,901.0 482.0,898.0 485.0,901.0 482.0,904.0" fill="#46c800"/>
</g>
<g clip-path="url(#c13)"><rect x="545" y="853" width="180" height="180" fill="#0000f0"/>
<polygon points="572.0,871.0 584.0,862.0 596.0,851.5 644.0,851.5 647.0,875.5 644.0,898.0 641.0,916.0 647.0,928.0 638.0,946.0 626.0,949.0 620.0,958.0 623.0,976.0 611.0,985.0 609.5,1003.0 602.0,1019.5 594.5,1019.5 593.0,997.0 584.0,988.0 599.0,976.0 600.5,955.0 590.0,943.0 578.0,937.0 575.0,919.0 567.5,883.0" fill="#0050f0"/>
<polygon points="543.5,851.5 554.0,851.5 554.0,862.0 543.5,865.0" fill="#0050f0"/>
<polygon points="560.0,868.0 575.0,862.0 590.0,865.0 594.5,872.5 582.5,890.5 567.5,887.5" fill="#0050f0"/>
<polygon points="701.0,851.5 726.5,851.5 726.5,1034.5 717.5,1034.5 717.5,995.5 713.0,985.0 708.5,967.0 713.0,955.0 710.0,943.0 702.5,934.0 702.5,898.0 701.0,875.5" fill="#0050f0"/>
<polygon points="662.0,1019.5 674.0,1019.5 680.0,1028.5 680.0,1034.5 659.0,1034.5" fill="#0050f0"/>
<polygon points="705.5,866.5 719.0,862.0 726.5,862.0 726.5,898.0 707.0,898.0" fill="#00bef0"/>
<polygon points="632.0,929.5 641.0,922.0 642.5,923.5 635.0,931.0" fill="#00bef0"/>
</g>
<g clip-path="url(#c14)"><rect x="725" y="853" width="120" height="180" fill="#00f0e0"/>
<polygon points="723.5,851.5 743.0,851.5 749.0,865.0 770.0,883.0 782.0,881.5 791.0,871.0 801.5,871.0 815.0,887.5 813.5,895.0 794.0,896.5 785.0,902.5 779.0,928.0 770.0,937.0 765.5,964.0 770.0,980.5 779.0,994.0 770.0,997.0 758.0,1003.0 753.5,1018.0 755.0,1034.5 723.5,1034.5" fill="#00bef0"/>
<polygon points="723.5,898.0 734.0,899.5 743.0,925.0 743.0,937.0 737.0,958.0 735.5,979.0 740.0,985.0 741.5,1003.0 744.5,1034.5 723.5,1034.5" fill="#0050f0"/>
<polygon points="723.5,997.0 728.0,1000.0 729.5,1034.5 723.5,1034.5" fill="#0000f0"/>
<polygon points="828.5,851.5 833.8,851.5 833.8,872.5 828.5,868.0 827.0,859.0" fill="#00d28c"/>
<polygon points="806.0,976.0 818.0,967.0 833.8,938.5 846.5,938.5 846.5,1034.5 797.0,1034.5 797.0,1010.5 806.0,995.5" fill="#00d28c"/>
</g>
<g clip-path="url(#c15)"><rect x="365" y="1033" width="180" height="90" fill="#0050f0"/>
<polygon points="363.5,1031.5 380.0,1031.5 371.0,1040.5 369.5,1051.0 368.0,1063.0 363.5,1066.0" fill="#0000f0"/>
<polygon points="399.5,1031.5 437.0,1031.5 434.0,1039.0 425.0,1042.0 410.0,1042.0 402.5,1037.5" fill="#0000f0"/>
<polygon points="404.0,1093.0 419.0,1091.5 419.0,1105.0 404.0,1105.0" fill="#0000f0"/>
<polygon points="363.5,1105.0 374.0,1108.0 383.0,1114.0 363.5,1117.0" fill="#0000f0"/>
<polygon points="465.5,1114.8 471.5,1108.8 479.0,1114.8" fill="#0000f0"/>
<polygon points="539.0,1081.0 546.5,1078.0 546.5,1114.8 539.0,1114.8" fill="#0000f0"/>
<polygon points="479.8,1072.3 482.0,1071.2 484.2,1072.8 482.0,1073.8" fill="#00bef0"/>
</g>
<g clip-path="url(#c16)"><rect x="545" y="1033" width="180" height="90" fill="#0000f0"/>
<polygon points="543.5,1031.5 567.5,1031.5 567.5,1048.0 572.0,1057.0 572.0,1075.0 560.0,1078.0 543.5,1078.0" fill="#0050f0"/>
<polygon points="623.0,1072.0 641.0,1069.0 650.0,1075.0 659.0,1078.0 674.0,1073.5 695.0,1066.0 710.0,1051.0 726.5,1048.0 726.5,1114.8 629.0,1114.8 630.5,1093.0 641.0,1082.5 635.0,1078.0" fill="#0050f0"/>
<polygon points="662.0,1031.5 677.0,1031.5 674.0,1039.0 665.0,1042.0" fill="#0050f0"/>
<polygon points="687.5,1114.8 692.0,1100.5 702.5,1093.0 717.5,1087.0 726.5,1085.5 726.5,1114.8" fill="#00bef0"/>
<polygon points="639.5,1114.8 644.0,1109.5 647.0,1114.8" fill="#00bef0"/>
</g>
<g clip-path="url(#c17)"><rect x="725" y="1033" width="120" height="90" fill="#00f0e0"/>
<polygon points="724.0,1032.0 754.0,1032.0 753.0,1043.0 755.0,1073.0 760.0,1083.0 749.0,1093.0 755.0,1103.0 745.0,1115.0 724.0,1115.0" fill="#00bef0"/>
<polygon points="724.0,1032.0 744.0,1032.0 744.0,1058.0 740.0,1066.0 732.0,1073.0 731.0,1083.0 724.0,1087.0" fill="#0050f0"/>
<polygon points="724.0,1032.0 729.0,1032.0 729.0,1040.0 724.0,1043.0" fill="#0000f0"/>
<polygon points="764.0,1041.0 768.0,1032.0 835.0,1032.0 835.0,1116.0 781.0,1116.0 793.0,1098.0 799.0,1083.0 795.0,1063.0 791.0,1044.0 788.0,1051.0 787.0,1068.0 782.0,1078.0 774.0,1073.0 771.0,1053.0 764.0,1051.0" fill="#00d28c"/>
<polygon points="780.0,1032.0 795.0,1032.0 791.0,1037.0 781.0,1038.0" fill="#00f0e0"/>
<polygon points="801.0,1051.0 813.0,1036.0 820.0,1048.0 821.0,1053.0 835.0,1053.0 835.0,1116.0 828.0,1116.0 832.0,1095.0 821.0,1081.0 812.0,1077.0 802.0,1074.0" fill="#00b428"/>
</g>
<g clip-path="url(#c18)"><rect x="455" y="223" width="180" height="180" fill="#46c800"/>
<polyline points="551.0,218.5 549.5,221.5 545.0,229.0 539.0,230.5 530.0,236.5 519.5,232.0 510.5,238.0 506.0,250.0 498.5,256.0 491.0,262.0 489.5,266.5 500.0,268.0 501.5,283.0 500.0,298.0 506.0,307.0 512.0,313.0 513.5,328.0 510.5,343.0 506.0,358.0 500.0,370.0 492.5,380.5 479.0,391.0 464.0,382.0 462.5,410.5" fill="none" stroke="#00b428" stroke-width="26" stroke-linejoin="round" stroke-linecap="round"/>
<polyline points="551.0,218.5 549.5,221.5 545.0,229.0 539.0,230.5 530.0,236.5 519.5,232.0 510.5,238.0 506.0,250.0 498.5,256.0 491.0,262.0 489.5,266.5 500.0,268.0 501.5,283.0 500.0,298.0 506.0,307.0 512.0,313.0 513.5,328.0 510.5,343.0 506.0,358.0 500.0,370.0 492.5,380.5 479.0,391.0 464.0,382.0 462.5,410.5" fill="none" stroke="#00d28c" stroke-width="12" stroke-linejoin="round" stroke-linecap="round"/>
<polyline points="551.0,218.5 549.5,221.5 545.0,229.0 539.0,230.5 530.0,236.5 519.5,232.0 510.5,238.0 506.0,250.0 498.5,256.0 491.0,262.0 489.5,266.5 500.0,268.0 501.5,283.0 500.0,298.0 506.0,307.0 512.0,313.0 513.5,328.0 510.5,343.0 506.0,358.0 500.0,370.0 492.5,380.5 479.0,391.0 464.0,382.0 462.5,410.5" fill="none" stroke="#00f0e0" stroke-width="7" stroke-linejoin="round" stroke-linecap="round"/>
<polygon points="551.0,218.5 549.5,221.5 545.0,229.0 539.0,230.5 530.0,236.5 519.5,232.0 510.5,238.0 506.0,250.0 498.5,256.0 491.0,262.0 489.5,266.5 500.0,268.0 501.5,283.0 500.0,298.0 506.0,307.0 512.0,313.0 513.5,328.0 510.5,343.0 506.0,358.0 500.0,370.0 492.5,380.5 479.0,391.0 464.0,382.0 462.5,410.5 642.5,410.5 642.5,218.5" fill="#0050f0"/>
<polygon points="509.0,250.0 519.5,242.5 539.0,239.5 548.0,232.0 560.0,230.5 570.5,239.5 563.0,247.0 560.0,262.0 557.0,272.5 569.0,286.0 584.0,293.5 585.5,304.0 569.0,310.0 545.0,314.5 527.0,313.0 515.0,304.0 509.0,286.0" fill="#00bef0"/>
<polygon points="536.0,262.0 545.0,260.5 548.0,272.5 543.5,283.0 536.0,280.0" fill="#0050f0"/>
<polygon points="519.5,253.0 524.0,250.0 527.0,259.0 521.0,260.5" fill="#0050f0"/>
<polygon points="491.0,263.5 500.0,268.0 500.0,278.5 492.5,275.5" fill="#0000f0"/>
<polygon points="587.0,221.5 636.5,221.5 636.5,232.0 620.0,239.5 612.5,242.5 602.0,235.0 590.0,229.0" fill="#0000f0"/>
<polygon points="569.0,248.5 581.0,247.0 590.0,253.0 599.0,259.0 605.0,268.0 605.0,280.0 599.0,289.0 587.0,286.0 575.0,280.0 569.0,271.0 566.0,257.5" fill="#0000f0"/>
<polygon points="542.0,326.5 560.0,314.5 590.0,311.5 620.0,316.0 636.5,328.0 636.5,352.0 605.0,355.0 590.0,359.5 575.0,373.0 560.0,367.0 551.0,358.0 545.0,343.0" fill="#0000f0"/>
<polygon points="623.0,241.0 635.0,238.0 636.5,268.0 627.5,272.5 624.5,260.5" fill="#0000f0"/>
<polygon points="587.0,367.0 605.0,364.0 620.0,358.0 636.5,355.0 636.5,373.0 620.0,374.5 605.0,379.0 590.0,382.0" fill="#0000f0"/>
<polygon points="512.0,316.0 521.0,319.0 527.0,337.0 539.0,352.0 545.0,367.0 539.0,373.0 527.0,373.0 518.0,388.0 512.0,403.0 500.0,404.5 504.5,373.0 512.0,350.5 513.5,328.0" fill="#00bef0"/>
<polygon points="492.5,380.5 500.0,371.5 509.0,373.0 521.0,382.0 519.5,404.5 470.0,404.5 479.0,391.0" fill="#00f0e0"/>
<polygon points="620.0,271.0 636.5,268.0 636.5,307.0 627.5,304.0" fill="#00bef0"/>
</g>
<g clip-path="url(#c19)"><rect x="365" y="580" width="299" height="290" fill="#00bef0"/>
<polygon points="361.5,577.5 481.5,577.5 479.0,600.0 471.5,625.0 459.0,640.0 446.5,650.0 426.5,655.0 401.5,652.5 379.0,660.0 361.5,665.0" fill="#00f0e0"/>
<polygon points="389.0,577.5 481.5,577.5 479.0,595.0 469.0,620.0 451.5,630.0 426.5,632.5 401.5,625.0 389.0,605.0" fill="#00d28c"/>
<polygon points="396.5,577.5 474.0,577.5 471.5,610.0 446.5,625.0 426.5,627.5 409.0,617.5 399.0,600.0" fill="#00d28c"/>
<polygon points="446.5,577.5 474.0,577.5 471.5,595.0 451.5,592.5" fill="#00b428"/>
<polygon points="384.0,697.5 414.0,697.5 414.0,712.5 384.0,712.5" fill="#0050f0"/>
<polygon points="379.0,755.0 424.0,750.0 419.0,770.0 379.0,770.0" fill="#0050f0"/>
<polygon points="371.5,720.0 389.0,725.0 389.0,752.5 371.5,752.5" fill="#00f0e0"/>
<polygon points="361.5,770.0 394.0,770.0 404.0,755.0 414.0,730.0 416.5,745.0 409.0,760.0 394.0,775.0 364.0,787.5 361.5,787.5" fill="#0050f0"/>
<polygon points="484.0,570.0 481.5,580.0 479.0,600.0 471.5,625.0 459.0,640.0 446.5,650.0 439.0,665.0 431.5,685.0 421.5,705.0 419.0,730.0 416.5,745.0 409.0,760.0 394.0,775.0 364.0,787.5 354.0,792.5 354.0,890.0 674.0,890.0 674.0,570.0" fill="#0000f0"/>
<polygon points="464.0,680.0 481.5,665.0 499.0,652.5 514.0,647.5 534.0,657.5 539.0,675.0 519.0,687.5 514.0,710.0 514.0,735.0 504.0,755.0 489.0,760.0 474.0,745.0 464.0,725.0 459.0,705.0" fill="#0050f0"/>
<polygon points="489.0,705.0 499.0,702.5 504.0,720.0 499.0,730.0 489.0,725.0" fill="#00bef0"/>
<polygon points="506.5,662.5 524.0,660.0 534.0,675.0 519.0,680.0 509.0,675.0" fill="#00bef0"/>
<polygon points="569.0,590.0 589.0,582.5 629.0,582.5 639.0,595.0 629.0,610.0 601.5,617.5 576.5,612.5" fill="#0050f0"/>
<polygon points="584.0,592.5 604.0,587.5 609.0,602.5 589.0,605.0" fill="#00bef0"/>
<polygon points="601.5,605.0 666.5,600.0 666.5,760.0 639.0,755.0 614.0,735.0 604.0,705.0 609.0,680.0 599.0,655.0 601.5,630.0" fill="#0050f0"/>
<polygon points="614.0,630.0 639.0,625.0 666.5,637.5 666.5,667.5 639.0,670.0 621.5,655.0" fill="#00bef0"/>
<polygon points="626.5,692.5 651.5,695.0 666.5,705.0 666.5,745.0 644.0,742.5 629.0,720.0" fill="#00bef0"/>
<polygon points="594.0,685.0 611.5,685.0 614.0,700.0 596.5,700.0" fill="#00bef0"/>
<polygon points="649.0,662.5 659.0,660.0 659.0,672.5 649.0,672.5" fill="#0000f0"/>
<polygon points="529.0,735.0 554.0,730.0 561.5,755.0 554.0,780.0 534.0,780.0 526.5,760.0" fill="#0050f0"/>
<polygon points="534.0,740.0 554.0,737.5 556.5,760.0 539.0,765.0" fill="#00bef0"/>
<polygon points="564.0,742.5 584.0,742.5 584.0,765.0 564.0,765.0" fill="#0050f0"/>
<polygon points="554.0,780.0 589.0,777.5 614.0,780.0 639.0,777.5 666.5,775.0 666.5,882.5 579.0,882.5 564.0,855.0 554.0,830.0" fill="#0050f0"/>
<polygon points="589.0,785.0 626.5,785.0 629.0,805.0 594.0,805.0" fill="#00bef0"/>
<polygon points="579.0,820.0 626.5,815.0 639.0,842.5 639.0,882.5 589.0,882.5 579.0,855.0" fill="#0050f0"/>
<polygon points="509.0,817.5 539.0,815.0 554.0,830.0 549.0,855.0 524.0,860.0 509.0,845.0" fill="#0050f0"/>
<polygon points="436.5,792.5 464.0,790.0 474.0,805.0 469.0,820.0 444.0,820.0" fill="#0050f0"/>
<polygon points="464.0,640.0 479.0,640.0 481.5,652.5 464.0,655.0" fill="#0050f0"/>
</g>
<g clip-path="url(#c20)"><rect x="515" y="262" width="225" height="238" fill="#0050f0"/>
<polygon points="512.0,264.0 526.0,260.0 540.0,268.0 560.0,272.0 580.0,284.0 584.0,300.0 572.0,310.0 540.0,312.0 520.0,308.0 512.0,290.0" fill="#00bef0"/>
<polygon points="540.0,276.0 560.0,278.0 560.0,286.0 540.0,286.0" fill="#0050f0"/>
<polygon points="558.0,258.0 610.0,258.0 608.0,272.0 600.0,278.0 580.0,276.0 564.0,270.0" fill="#0000f0"/>
<polygon points="608.0,258.0 624.0,258.0 628.0,280.0 626.0,300.0 616.0,304.0 610.0,284.0" fill="#0000f0"/>
<polygon points="666.0,258.0 700.0,258.0 700.0,280.0 680.0,282.0 668.0,276.0" fill="#0000f0"/>
<polygon points="652.0,290.0 660.0,290.0 660.0,310.0 652.0,310.0" fill="#0000f0"/>
<polygon points="680.0,306.0 720.0,306.0 720.0,326.0 690.0,326.0" fill="#0000f0"/>
<polygon points="544.0,326.0 560.0,316.0 584.0,314.0 600.0,318.0 612.0,328.0 628.0,326.0 632.0,336.0 628.0,348.0 620.0,356.0 608.0,360.0 592.0,368.0 580.0,380.0 566.0,384.0 552.0,376.0 548.0,356.0 546.0,340.0" fill="#0000f0"/>
<polygon points="512.0,312.0 532.0,320.0 540.0,336.0 548.0,360.0 540.0,372.0 534.0,384.0 524.0,400.0 520.0,416.0 516.0,400.0 512.0,380.0 508.0,350.0" fill="#00bef0"/>
<polygon points="640.0,320.0 652.0,312.0 660.0,316.0 660.0,380.0 644.0,376.0 640.0,356.0 644.0,340.0" fill="#00bef0"/>
<polygon points="704.0,264.0 730.0,264.0 742.0,272.0 742.0,310.0 720.0,310.0 708.0,290.0" fill="#00bef0"/>
<polygon points="668.0,344.0 700.0,348.0 730.0,344.0 742.0,352.0 742.0,384.0 720.0,384.0 680.0,380.0 668.0,364.0" fill="#00bef0"/>
<polygon points="540.0,440.0 560.0,430.0 580.0,436.0 600.0,424.0 612.0,440.0 608.0,460.0 600.0,480.0 580.0,502.0 536.0,502.0 530.0,470.0" fill="#0000f0"/>
<polygon points="648.0,440.0 660.0,432.0 680.0,436.0 690.0,450.0 680.0,470.0 664.0,480.0 652.0,460.0" fill="#0000f0"/>
<polygon points="710.0,384.0 742.0,384.0 742.0,400.0 710.0,400.0" fill="#0000f0"/>
<polygon points="680.0,396.0 692.0,396.0 692.0,420.0 680.0,420.0" fill="#0000f0"/>
<polygon points="716.0,440.0 742.0,436.0 742.0,480.0 716.0,480.0" fill="#00bef0"/>
<polygon points="660.0,460.0 680.0,460.0 680.0,502.0 660.0,502.0" fill="#00bef0"/>
<polygon points="556.0,416.0 576.0,416.0 576.0,428.0 556.0,428.0" fill="#00bef0"/>
<polygon points="512.0,416.0 528.0,420.0 532.0,440.0 524.0,460.0 512.0,460.0" fill="#00bef0"/>
</g>
<g clip-path="url(#c21)"><rect x="721" y="133" width="114" height="180" fill="#00bef0"/>
<polygon points="720.0,205.3 723.3,215.3 730.0,248.7 740.0,265.3 750.0,282.0 763.3,298.7 773.3,315.3 780.0,333.7 881.7,333.7 881.7,130.3 720.0,130.3" fill="#00f0e0"/>
<polygon points="721.7,202.0 735.0,225.3 743.3,248.7 753.3,265.3 763.3,282.0 773.3,298.7 783.3,315.3 793.3,333.7 881.7,333.7 881.7,130.3 720.0,130.3" fill="#00d28c"/>
<polygon points="721.7,198.7 740.0,223.7 750.0,245.3 760.0,262.0 770.0,278.7 780.0,295.3 790.0,312.0 800.0,333.7 881.7,333.7 881.7,130.3 720.0,130.3" fill="#00b428"/>
<polygon points="730.0,130.3 723.3,173.7 726.7,195.3 746.7,218.7 756.7,238.7 766.7,258.7 776.7,275.3 786.7,292.0 796.7,308.7 806.7,333.7 881.7,333.7 881.7,130.3" fill="#46c800"/>
<polygon points="733.3,130.3 726.7,173.7 730.0,193.7 750.0,215.3 763.3,235.3 773.3,255.3 783.3,272.0 793.3,288.7 803.3,305.3 813.3,322.0 820.0,333.7 881.7,333.7 881.7,130.3" fill="#a5e10a"/>
<polygon points="740.0,130.3 730.0,173.7 733.3,192.0 753.3,210.3 766.7,228.7 776.7,248.7 786.7,265.3 796.7,282.0 806.7,298.7 818.3,315.3 830.0,323.7 881.7,323.7 881.7,130.3" fill="#ffff00"/>
<polygon points="750.0,130.3 740.0,165.3 735.0,182.0 746.7,195.3 760.0,205.3 773.3,222.0 783.3,238.7 793.3,255.3 803.3,272.0 813.3,285.3 826.7,298.7 835.0,307.0 881.7,307.0 881.7,130.3" fill="#ffe000"/>
<polygon points="756.7,130.3 750.0,157.0 743.3,178.7 753.3,190.3 766.7,198.7 780.0,212.0 790.0,225.3 800.0,242.0 810.0,258.7 820.0,272.0 835.0,282.0 881.7,282.0 881.7,130.3" fill="#ffbe00"/>
<polygon points="773.3,130.3 770.0,148.7 766.7,173.7 773.3,187.0 786.7,198.7 796.7,212.0 806.7,228.7 813.3,245.3 823.3,258.7 835.0,265.3 881.7,265.3 881.7,130.3" fill="#ff9600"/>
<polygon points="796.7,130.3 788.3,157.0 773.3,173.7 786.7,182.0 796.7,188.7 806.7,202.0 813.3,218.7 820.0,235.3 826.7,248.7 835.0,255.3 881.7,255.3 881.7,130.3" fill="#ff5a00"/>
<polygon points="816.7,218.7 826.7,213.7 835.0,215.3 835.0,248.7 826.7,247.0" fill="#ff1e00"/>
<polygon points="826.7,130.3 835.0,130.3 835.0,157.0 828.3,152.0" fill="#ff1e00"/>
<polygon points="816.7,170.3 826.7,167.0 835.0,170.3 835.0,187.0 823.3,182.0" fill="#ff1e00"/>
<polygon points="786.7,217.0 791.7,212.0 796.7,217.0 791.7,222.0" fill="#ff9600"/>
<polygon points="796.7,227.8 802.5,222.0 808.3,227.8 802.5,233.7" fill="#ffbe00"/>
<polygon points="788.3,227.8 791.7,225.0 795.0,227.8 791.7,230.7" fill="#ff1e00"/>
<polygon points="718.3,130.3 720.8,130.3 720.8,248.7 730.0,257.0 738.3,277.0 746.7,278.7 755.0,290.3 773.3,307.0 780.0,333.7 678.3,333.7 678.3,130.3" fill="#0000f0"/>
<polygon points="678.3,215.3 690.0,212.0 700.0,225.3 713.3,232.0 720.0,248.7 723.3,258.7 713.3,265.3 705.0,282.0 693.3,298.7 678.3,298.7" fill="#0050f0"/>
<polygon points="705.0,265.3 713.3,262.0 720.0,273.7 716.7,282.0 710.0,278.7" fill="#00bef0"/>
</g>
<g clip-path="url(#c22)">
<polygon points="698.8,248.8 856.2,248.8 856.2,406.2 698.8,406.2" fill="#0000f0"/>
<polygon points="747.5,248.8 750.0,262.5 762.5,287.5 780.0,312.5 800.0,337.5 805.0,362.5 812.5,387.5 817.5,406.2 862.5,406.2 862.5,248.8" fill="#0050f0"/>
<polygon points="748.8,248.8 750.0,262.5 762.5,287.5 780.0,312.5 800.0,337.5 810.0,362.5 818.8,387.5 823.8,406.2 862.5,406.2 862.5,248.8" fill="#00bef0"/>
<polygon points="752.5,248.8 755.0,262.5 770.0,287.5 790.0,312.5 807.5,337.5 815.0,362.5 830.0,387.5 835.0,406.2 862.5,406.2 862.5,248.8" fill="#00f0e0"/>
<polygon points="757.5,248.8 760.0,262.5 777.5,287.5 798.8,312.5 812.5,337.5 825.0,362.5 837.5,387.5 843.8,406.2 862.5,406.2 862.5,248.8" fill="#00d28c"/>
<polygon points="763.8,248.8 766.2,262.5 785.0,287.5 806.2,312.5 820.0,337.5 835.0,362.5 850.0,387.5 856.2,406.2 862.5,406.2 862.5,248.8" fill="#00b428"/>
<polygon points="772.5,248.8 775.0,262.5 795.0,287.5 815.0,312.5 827.5,337.5 837.5,362.5 856.2,387.5 856.2,406.2 862.5,406.2 862.5,248.8" fill="#46c800"/>
<polygon points="777.5,248.8 780.0,262.5 802.5,287.5 821.2,312.5 835.0,337.5 856.2,362.5 856.2,387.5 856.2,406.2 862.5,406.2 862.5,248.8" fill="#a5e10a"/>
<polygon points="782.5,248.8 787.5,262.5 810.0,287.5 827.5,312.5 837.5,337.5 856.2,362.5 856.2,387.5 856.2,406.2 862.5,406.2 862.5,248.8" fill="#ffff00"/>
<polygon points="790.0,248.8 797.5,262.5 820.0,287.5 835.0,312.5 856.2,337.5 856.2,362.5 856.2,387.5 856.2,406.2 862.5,406.2 862.5,248.8" fill="#ffe000"/>
<polygon points="797.5,248.8 805.0,262.5 828.8,287.5 837.5,312.5 856.2,337.5 856.2,362.5 856.2,387.5 856.2,406.2 862.5,406.2 862.5,248.8" fill="#ffbe00"/>
<polygon points="805.0,248.8 812.5,262.5 835.0,287.5 856.2,312.5 856.2,337.5 856.2,362.5 856.2,387.5 856.2,406.2 862.5,406.2 862.5,248.8" fill="#ff9600"/>
<polygon points="812.5,248.8 825.0,262.5 837.5,287.5 856.2,312.5 856.2,337.5 856.2,362.5 856.2,387.5 856.2,406.2 862.5,406.2 862.5,248.8" fill="#ff5a00"/>
<polygon points="726.2,248.8 727.5,250.0 732.5,268.8 740.0,280.0 747.5,277.5 755.0,286.2 762.5,295.0 770.0,303.8 777.5,316.2 782.5,330.0 786.2,340.0 782.5,345.0 790.0,350.0 792.5,356.2 787.5,362.5 790.0,368.8 797.5,375.0 802.5,383.8 805.0,387.5 806.2,406.2 698.8,406.2 698.8,248.8" fill="#0050f0"/>
<polygon points="721.2,248.8 726.9,248.8 732.5,268.8 740.0,280.0 747.5,277.5 755.0,286.2 762.5,295.0 770.0,303.8 777.5,316.2 770.0,320.0 756.2,312.5 743.8,297.5 731.2,287.5 721.2,275.0" fill="#0000f0"/>
<polygon points="775.0,316.2 780.0,320.0 782.5,330.0 786.2,340.0 782.5,345.0 790.0,350.0 792.5,356.2 787.5,362.5 790.0,368.8 780.0,362.5 775.0,350.0 775.0,331.2" fill="#0000f0"/>
<polygon points="720.0,280.0 730.0,280.0 727.5,286.2 722.5,286.2" fill="#00bef0"/>
<polygon points="718.8,330.0 735.0,330.0 737.5,336.2 722.5,337.5" fill="#00bef0"/>
<polygon points="698.8,355.0 707.5,356.2 707.5,368.8 698.8,368.8" fill="#00bef0"/>
<polygon points="705.0,265.0 720.0,265.0 722.5,291.2 705.0,291.2" fill="#0050f0"/>
</g>
<g clip-path="url(#c23)">
<polygon points="662.0,790.0 690.0,786.0 716.0,795.0 722.0,820.0 716.0,860.0 668.0,862.0 664.0,830.0" fill="#0000f0"/>
<polygon points="784.0,395.0 788.0,465.0 785.0,507.0 777.0,536.0 762.0,561.0 748.0,578.0 735.0,600.0 726.0,640.0 724.0,680.0 734.0,680.0 738.0,640.0 750.0,610.0 770.0,585.0 795.0,560.0 812.0,520.0 818.0,480.0 815.0,430.0 808.0,395.0" fill="#0000f0"/>
<polygon points="441.0,656.0 451.0,645.0 462.0,656.0 451.0,667.0" fill="#00bef0"/>
<polygon points="443.0,656.0 451.0,647.0 460.0,656.0 451.0,665.0" fill="#00d28c"/>
<polygon points="445.0,656.0 451.0,649.0 458.0,656.0 451.0,663.0" fill="#ffff00"/>
<polygon points="447.0,656.0 451.0,651.0 456.0,656.0 451.0,661.0" fill="#ff9600"/>
<polygon points="448.5,656.0 451.0,653.0 454.0,656.0 451.0,659.0" fill="#ff1e00"/>
</g>
<defs><clipPath id="c0"><rect x="365" y="133" width="180" height="180"/></clipPath><clipPath id="c1"><rect x="545" y="133" width="180" height="180"/></clipPath><clipPath id="c2"><rect x="725" y="133" width="120" height="180"/></clipPath><clipPath id="c3"><rect x="365" y="313" width="180" height="180"/></clipPath><clipPath id="c4"><rect x="545" y="313" width="180" height="180"/></clipPath><clipPath id="c5"><rect x="725" y="313" width="120" height="180"/></clipPath><clipPath id="c6"><rect x="365" y="493" width="180" height="180"/></clipPath><clipPath id="c7"><rect x="545" y="493" width="180" height="180"/></clipPath><clipPath id="c8"><rect x="725" y="493" width="120" height="180"/></clipPath><clipPath id="c9"><rect x="365" y="673" width="180" height="180"/></clipPath><clipPath id="c10"><rect x="545" y="673" width="180" height="180"/></clipPath><clipPath id="c11"><rect x="725" y="673" width="120" height="180"/></clipPath><clipPath id="c12"><rect x="365" y="853" width="180" height="180"/></clipPath><clipPath id="c13"><rect x="545" y="853" width="180" height="180"/></clipPath><clipPath id="c14"><rect x="725" y="853" width="120" height="180"/></clipPath><clipPath id="c15"><rect x="365" y="1033" width="180" height="90"/></clipPath><clipPath id="c16"><rect x="545" y="1033" width="180" height="90"/></clipPath><clipPath id="c17"><rect x="725" y="1033" width="120" height="90"/></clipPath><clipPath id="c18"><rect x="455" y="223" width="180" height="180"/></clipPath><clipPath id="c19"><rect x="365" y="580" width="299" height="290"/></clipPath><clipPath id="c20"><rect x="515" y="262" width="225" height="238"/></clipPath><clipPath id="c21"><rect x="721" y="133" width="114" height="180"/></clipPath><clipPath id="c22"><rect x="714" y="250" width="121" height="150"/></clipPath><clipPath id="c23"><rect x="364" y="132" width="471" height="984"/></clipPath></defs>
<polyline points="364.0,916.0 376.0,906.0 390.0,898.0 404.0,895.0 420.0,896.0 436.0,900.0 454.0,899.0 468.0,900.0 480.0,903.0 492.0,904.0 504.0,898.0 516.0,896.0 526.0,898.0 530.0,902.0" fill="none" stroke="#000" stroke-width="1.8" stroke-linejoin="round"/>
<polyline points="364.0,936.0 380.0,928.0 396.0,922.0 412.0,918.0 430.0,916.0 448.0,910.0 460.0,906.0 476.0,910.0 480.0,922.0 472.0,934.0 484.0,930.0 496.0,926.0 504.0,924.0" fill="none" stroke="#000" stroke-width="1.0" stroke-linejoin="round"/>
<polyline points="364.0,956.0 376.0,948.0 392.0,942.0 408.0,940.0 424.0,944.0 444.0,950.0 460.0,952.0 472.0,946.0 484.0,940.0 496.0,936.0 504.0,932.0 514.0,916.0 516.0,896.0" fill="none" stroke="#000" stroke-width="1.0" stroke-linejoin="round"/>
<polygon points="388.0,988.0 398.0,984.0 412.0,984.0 417.0,996.0 417.0,1008.0 408.0,1012.0 392.0,1010.0 387.0,1000.0" fill="none" stroke="#000" stroke-width="1.0" stroke-linejoin="round"/>
<polygon points="368.0,988.0 380.0,968.0 396.0,964.0 412.0,966.0 424.0,974.0 430.0,988.0 428.0,1012.0 424.0,1024.0 412.0,1030.0 394.0,1030.0 378.0,1022.0 368.0,1006.0" fill="none" stroke="#000" stroke-width="1.8" stroke-linejoin="round"/>
<polyline points="364.0,1020.0 372.0,1034.0 388.0,1042.0 404.0,1044.0 422.0,1038.0 436.0,1016.0 440.0,996.0 440.0,974.0 430.0,964.0" fill="none" stroke="#000" stroke-width="1.0" stroke-linejoin="round"/>
<polyline points="364.0,1048.0 384.0,1054.0 404.0,1054.0 424.0,1048.0 444.0,1032.0 456.0,1016.0 468.0,1004.0 476.0,992.0 488.0,980.0 496.0,968.0 504.0,960.0 512.0,952.0" fill="none" stroke="#000" stroke-width="1.0" stroke-linejoin="round"/>
<polyline points="364.0,1058.0 388.0,1064.0 408.0,1064.0 428.0,1056.0 448.0,1040.0 460.0,1024.0 472.0,1012.0 480.0,1004.0 488.0,992.0 500.0,976.0 508.0,964.0 520.0,952.0" fill="none" stroke="#000" stroke-width="1.0" stroke-linejoin="round"/>
<polyline points="364.0,1068.0 384.0,1071.0 404.0,1070.0 420.0,1064.0 440.0,1052.0 448.0,1036.0 458.0,1020.0 468.0,1012.0 484.0,1000.0 492.0,984.0 504.0,970.0 516.0,956.0 524.0,940.0 530.0,922.0 530.0,902.0" fill="none" stroke="#000" stroke-width="1.8" stroke-linejoin="round"/>
<polyline points="364.0,1082.0 384.0,1084.0 408.0,1080.0 428.0,1074.0 448.0,1062.0 464.0,1042.0 472.0,1028.0 484.0,1012.0 492.0,996.0" fill="none" stroke="#000" stroke-width="1.0" stroke-linejoin="round"/>
<polyline points="364.0,1092.0 394.0,1094.0 420.0,1090.0 440.0,1084.0 460.0,1074.0 472.0,1060.0 484.0,1048.0 500.0,1036.0" fill="none" stroke="#000" stroke-width="1.0" stroke-linejoin="round"/>
<polyline points="364.0,1102.0 388.0,1106.0 416.0,1102.0 440.0,1096.0 460.0,1088.0 476.0,1078.0 496.0,1060.0 516.0,1052.0 536.0,1056.0 564.0,1060.0 584.0,1062.0 604.0,1060.0" fill="none" stroke="#000" stroke-width="1.0" stroke-linejoin="round"/>
<polyline points="364.0,1114.0 404.0,1114.0 430.0,1108.0 454.0,1102.0 468.0,1096.0" fill="none" stroke="#000" stroke-width="1.0" stroke-linejoin="round"/>
<polyline points="538.0,876.0 540.0,888.0 544.0,908.0 550.0,924.0 558.0,944.0 564.0,928.0 570.0,906.0 576.0,888.0 580.0,876.0" fill="none" stroke="#000" stroke-width="1.0" stroke-linejoin="round"/>
<polyline points="584.0,876.0 586.0,896.0 582.0,916.0 580.0,936.0 584.0,956.0 580.0,976.0 576.0,996.0 580.0,1016.0 584.0,1026.0 592.0,1028.0 604.0,1024.0" fill="none" stroke="#000" stroke-width="1.0" stroke-linejoin="round"/>
<polyline points="528.0,912.0 530.0,928.0 524.0,948.0 516.0,964.0 508.0,972.0" fill="none" stroke="#000" stroke-width="1.0" stroke-linejoin="round"/>
<polygon points="534.0,988.0 540.0,976.0 548.0,972.0 552.0,980.0 550.0,994.0 544.0,1000.0 538.0,998.0" fill="none" stroke="#000" stroke-width="1.0" stroke-linejoin="round"/>
<polyline points="524.0,980.0 528.0,1000.0 534.0,1012.0 548.0,1016.0 560.0,1012.0 572.0,1020.0 584.0,1026.0" fill="none" stroke="#000" stroke-width="1.0" stroke-linejoin="round"/>
<polygon points="586.0,984.0 594.0,988.0 598.0,1000.0 594.0,1012.0 588.0,1010.0 586.0,996.0" fill="none" stroke="#000" stroke-width="1.8" stroke-linejoin="round"/>
<polygon points="508.0,888.0 512.0,880.0 524.0,878.0 528.0,888.0 524.0,896.0 514.0,896.0" fill="none" stroke="#000" stroke-width="1.8" stroke-linejoin="round"/>
<polygon points="433.0,545.0 437.0,539.0 441.0,540.0 440.0,545.0 436.0,547.0" fill="none" stroke="#000" stroke-width="2.2" stroke-linejoin="round"/>
<polygon points="384.0,692.0 387.0,684.0 391.0,680.0 392.0,684.0 388.0,691.0" fill="none" stroke="#000" stroke-width="2.0" stroke-linejoin="round"/>
<polygon points="464.0,700.0 476.0,684.0 492.0,672.0 508.0,662.0 516.0,654.0 528.0,658.0 538.0,670.0 540.0,676.0 528.0,684.0 512.0,692.0 506.0,700.0 510.0,716.0 512.0,728.0 508.0,740.0 500.0,752.0 492.0,758.0 484.0,750.0 476.0,736.0 468.0,720.0 464.0,708.0" fill="none" stroke="#000" stroke-width="1.8" stroke-linejoin="round"/>
<polygon points="470.0,706.0 480.0,696.0 492.0,690.0 504.0,680.0 512.0,670.0 516.0,664.0 528.0,666.0 532.0,676.0 516.0,686.0 504.0,696.0 502.0,706.0 504.0,724.0 504.0,734.0 496.0,744.0 488.0,738.0 480.0,726.0 474.0,716.0" fill="none" stroke="#000" stroke-width="1.0" stroke-linejoin="round"/>
<polygon points="478.0,710.0 484.0,702.0 492.0,700.0 498.0,716.0 502.0,728.0 496.0,736.0 488.0,732.0 482.0,722.0" fill="none" stroke="#000" stroke-width="1.0" stroke-linejoin="round"/>
<polygon points="504.0,676.0 508.0,668.0 516.0,666.0 518.0,674.0 514.0,680.0 506.0,680.0" fill="none" stroke="#000" stroke-width="1.0" stroke-linejoin="round"/>
<polygon points="456.0,700.0 468.0,684.0 482.0,672.0 496.0,660.0 512.0,650.0 528.0,648.0 540.0,656.0 548.0,670.0 544.0,680.0 530.0,688.0 518.0,696.0 514.0,708.0 518.0,724.0 516.0,740.0 510.0,752.0 500.0,764.0 490.0,770.0 480.0,764.0 468.0,748.0 462.0,732.0 456.0,716.0" fill="none" stroke="#000" stroke-width="1.0" stroke-linejoin="round"/>
<polyline points="444.0,706.0 454.0,684.0 470.0,668.0 484.0,656.0 500.0,648.0 510.0,640.0" fill="none" stroke="#000" stroke-width="1.0" stroke-linejoin="round"/>
<polyline points="424.0,692.0 432.0,676.0 444.0,664.0 456.0,652.0 464.0,640.0" fill="none" stroke="#000" stroke-width="1.0" stroke-linejoin="round"/>
<polyline points="424.0,750.0 430.0,732.0 436.0,716.0 444.0,700.0 450.0,680.0 464.0,664.0 476.0,652.0 484.0,640.0" fill="none" stroke="#000" stroke-width="1.0" stroke-linejoin="round"/>
<polyline points="424.0,780.0 436.0,768.0 444.0,752.0 452.0,734.0 448.0,716.0" fill="none" stroke="#000" stroke-width="1.0" stroke-linejoin="round"/>
<polygon points="588.0,688.0 596.0,680.0 608.0,680.0 614.0,688.0 614.0,698.0 604.0,706.0 594.0,716.0 590.0,706.0 588.0,696.0" fill="none" stroke="#000" stroke-width="1.8" stroke-linejoin="round"/>
<polygon points="560.0,760.0 564.0,744.0 572.0,736.0 582.0,734.0 588.0,744.0 590.0,760.0 584.0,772.0 572.0,778.0 562.0,774.0" fill="none" stroke="#000" stroke-width="1.8" stroke-linejoin="round"/>
<polygon points="592.0,690.0 600.0,686.0 606.0,692.0 604.0,700.0 596.0,700.0" fill="none" stroke="#000" stroke-width="1.0" stroke-linejoin="round"/>
<polygon points="566.0,752.0 572.0,744.0 580.0,744.0 584.0,756.0 580.0,766.0 572.0,768.0 568.0,762.0" fill="none" stroke="#000" stroke-width="1.0" stroke-linejoin="round"/>
<polygon points="544.0,708.0 552.0,698.0 560.0,694.0 562.0,706.0 556.0,720.0 548.0,716.0" fill="none" stroke="#000" stroke-width="1.0" stroke-linejoin="round"/>
<polyline points="548.0,640.0 552.0,660.0 556.0,670.0 552.0,690.0 540.0,700.0 536.0,716.0 544.0,732.0 552.0,740.0 554.0,760.0 552.0,780.0 548.0,792.0" fill="none" stroke="#000" stroke-width="1.0" stroke-linejoin="round"/>
<polygon points="588.0,648.0 600.0,648.0 600.0,660.0 590.0,658.0" fill="none" stroke="#000" stroke-width="1.0" stroke-linejoin="round"/>
<polyline points="620.0,640.0 612.0,660.0 620.0,680.0 632.0,692.0 634.0,720.0 628.0,740.0 624.0,760.0 624.0,780.0 632.0,800.0" fill="none" stroke="#000" stroke-width="1.0" stroke-linejoin="round"/>
<polyline points="576.0,640.0 580.0,664.0 584.0,672.0 580.0,692.0 576.0,720.0 564.0,728.0 552.0,744.0" fill="none" stroke="#000" stroke-width="1.0" stroke-linejoin="round"/>
<polyline points="430.0,806.0 436.0,792.0 448.0,788.0 464.0,788.0 480.0,792.0 496.0,800.0 508.0,806.0 524.0,810.0 540.0,812.0 550.0,808.0 556.0,800.0 554.0,786.0 548.0,778.0" fill="none" stroke="#000" stroke-width="1.8" stroke-linejoin="round"/>
<polyline points="430.0,806.0 436.0,824.0 448.0,830.0 468.0,832.0 484.0,836.0 496.0,844.0 500.0,860.0 508.0,870.0 518.0,880.0" fill="none" stroke="#000" stroke-width="1.8" stroke-linejoin="round"/>
<polygon points="438.0,806.0 444.0,798.0 456.0,794.0 470.0,796.0 480.0,804.0 484.0,816.0 476.0,822.0 456.0,822.0 442.0,816.0" fill="none" stroke="#000" stroke-width="1.0" stroke-linejoin="round"/>
<polygon points="446.0,806.0 454.0,800.0 466.0,802.0 470.0,812.0 460.0,818.0 448.0,814.0" fill="none" stroke="#000" stroke-width="1.0" stroke-linejoin="round"/>
<polygon points="516.0,832.0 528.0,820.0 542.0,816.0 552.0,824.0 556.0,840.0 548.0,852.0 532.0,856.0 518.0,848.0" fill="none" stroke="#000" stroke-width="1.0" stroke-linejoin="round"/>
<polygon points="524.0,832.0 532.0,826.0 540.0,828.0 544.0,836.0 536.0,842.0 526.0,840.0" fill="none" stroke="#000" stroke-width="1.8" stroke-linejoin="round"/>
<polygon points="508.0,824.0 520.0,814.0 536.0,812.0 552.0,816.0 560.0,832.0 560.0,852.0 552.0,864.0 536.0,868.0 518.0,860.0 508.0,844.0" fill="none" stroke="#000" stroke-width="1.0" stroke-linejoin="round"/>
<polygon points="508.0,764.0 518.0,762.0 528.0,772.0 530.0,786.0 524.0,796.0 512.0,792.0 508.0,780.0" fill="none" stroke="#000" stroke-width="1.0" stroke-linejoin="round"/>
<polyline points="460.0,860.0 468.0,848.0 480.0,846.0 490.0,856.0 492.0,870.0 488.0,880.0" fill="none" stroke="#000" stroke-width="1.0" stroke-linejoin="round"/>
<polyline points="424.0,780.0 436.0,784.0 448.0,780.0 464.0,778.0 484.0,780.0 500.0,784.0 508.0,792.0" fill="none" stroke="#000" stroke-width="1.0" stroke-linejoin="round"/>
<polyline points="424.0,840.0 440.0,842.0 456.0,848.0 464.0,860.0 464.0,880.0" fill="none" stroke="#000" stroke-width="1.0" stroke-linejoin="round"/>
<polyline points="552.0,792.0 554.0,812.0 556.0,832.0 564.0,852.0 568.0,880.0" fill="none" stroke="#000" stroke-width="1.0" stroke-linejoin="round"/>
<polyline points="576.0,816.0 584.0,828.0 592.0,840.0 604.0,850.0 616.0,860.0 624.0,880.0" fill="none" stroke="#000" stroke-width="1.0" stroke-linejoin="round"/>
<polyline points="596.0,880.0 604.0,840.0 614.0,824.0 622.0,820.0 632.0,832.0 640.0,860.0 644.0,880.0" fill="none" stroke="#000" stroke-width="1.0" stroke-linejoin="round"/>
<polyline points="590.0,390.0 597.5,405.0 610.0,412.5 617.5,425.0 627.5,440.0 632.5,447.5 640.0,430.0 645.0,420.0 660.0,412.5 665.0,400.0 660.0,385.0 655.0,380.0" fill="none" stroke="#000" stroke-width="1.8" stroke-linejoin="round"/>
<polygon points="617.5,390.0 627.5,387.5 645.0,390.0 655.0,400.0 655.0,420.0 645.0,427.5 630.0,422.5 620.0,410.0" fill="none" stroke="#000" stroke-width="1.0" stroke-linejoin="round"/>
<polygon points="630.0,395.0 642.5,392.5 650.0,405.0 645.0,417.5 635.0,417.5 630.0,405.0" fill="none" stroke="#000" stroke-width="1.0" stroke-linejoin="round"/>
<polygon points="637.5,397.5 642.5,395.0 645.0,407.5 641.2,410.0" fill="none" stroke="#000" stroke-width="1.0" stroke-linejoin="round"/>
<polyline points="545.0,395.0 555.0,400.0 570.0,405.0 580.0,415.0 590.0,422.5 600.0,432.5 605.0,442.5 597.5,450.0 582.5,447.5 570.0,440.0 560.0,432.5 545.0,427.5" fill="none" stroke="#000" stroke-width="1.0" stroke-linejoin="round"/>
<polyline points="545.0,437.5 560.0,445.0 575.0,452.5 595.0,462.5 610.0,475.0 620.0,490.0 615.0,505.0" fill="none" stroke="#000" stroke-width="1.0" stroke-linejoin="round"/>
<polygon points="607.5,437.5 612.5,440.0 610.0,445.0 606.2,442.5" fill="none" stroke="#000" stroke-width="1.5" stroke-linejoin="round"/>
<polygon points="617.5,462.5 625.0,455.0 632.5,455.0 635.0,470.0 630.0,480.0 620.0,480.0 617.5,470.0" fill="none" stroke="#000" stroke-width="1.8" stroke-linejoin="round"/>
<polyline points="652.5,380.0 662.5,395.0 665.0,417.5 655.0,442.5 647.5,455.0 645.0,480.0 640.0,505.0 627.5,520.0 610.0,535.0 595.0,545.0 580.0,555.0" fill="none" stroke="#000" stroke-width="1.0" stroke-linejoin="round"/>
<polygon points="575.0,600.0 577.5,592.5 595.0,585.0 615.0,575.0 627.5,560.0 630.0,540.0 640.0,535.0 647.5,542.5 647.5,555.0 640.0,570.0 637.5,585.0 625.0,597.5 612.5,605.0 597.5,615.0 580.0,615.0" fill="none" stroke="#000" stroke-width="1.8" stroke-linejoin="round"/>
<polygon points="612.5,590.0 620.0,585.0 632.5,587.5 630.0,595.0 617.5,597.5" fill="none" stroke="#000" stroke-width="1.0" stroke-linejoin="round"/>
<polygon points="587.5,600.0 600.0,595.0 605.0,602.5 590.0,605.0" fill="none" stroke="#000" stroke-width="1.0" stroke-linejoin="round"/>
<polygon points="627.5,545.0 635.0,542.5 642.5,550.0 635.0,560.0 630.0,555.0" fill="none" stroke="#000" stroke-width="1.0" stroke-linejoin="round"/>
<polygon points="567.5,597.5 582.5,580.0 602.5,570.0 617.5,555.0 622.5,535.0 635.0,530.0 652.5,537.5 652.5,560.0 645.0,580.0 640.0,597.5 625.0,610.0 605.0,620.0 582.5,622.5 570.0,615.0" fill="none" stroke="#000" stroke-width="1.0" stroke-linejoin="round"/>
<polygon points="702.5,417.5 710.0,400.0 725.0,390.0 740.0,395.0 755.0,410.0 762.5,430.0 765.0,455.0 760.0,480.0 765.0,500.0 760.0,520.0 752.5,535.0 742.5,542.5 730.0,555.0 720.0,565.0 707.5,570.0 700.0,555.0 705.0,530.0 710.0,505.0 707.5,480.0 705.0,455.0 702.5,435.0" fill="none" stroke="#000" stroke-width="1.8" stroke-linejoin="round"/>
<polygon points="715.0,425.0 720.0,405.0 730.0,397.5 742.5,407.5 750.0,430.0 747.5,455.0 742.5,475.0 735.0,485.0 725.0,480.0 720.0,460.0 717.5,442.5" fill="none" stroke="#000" stroke-width="1.0" stroke-linejoin="round"/>
<polygon points="725.0,430.0 730.0,427.5 735.0,440.0 730.0,445.0 725.0,440.0" fill="none" stroke="#000" stroke-width="1.0" stroke-linejoin="round"/>
<polygon points="717.5,535.0 725.0,525.0 740.0,520.0 750.0,520.0 742.5,535.0 730.0,550.0 717.5,552.5 715.0,542.5" fill="none" stroke="#000" stroke-width="1.0" stroke-linejoin="round"/>
<polyline points="680.0,390.0 685.0,415.0 690.0,442.5 695.0,480.0 700.0,505.0 692.5,530.0 690.0,555.0 690.0,575.0 705.0,595.0 715.0,620.0 717.5,655.0" fill="none" stroke="#000" stroke-width="1.0" stroke-linejoin="round"/>
<polyline points="695.0,390.0 700.0,405.0 697.5,430.0 695.0,455.0 702.5,485.0 710.0,520.0 707.5,555.0 700.0,580.0 695.0,605.0" fill="none" stroke="#000" stroke-width="1.0" stroke-linejoin="round"/>
<polyline points="770.0,385.0 775.0,417.5 782.5,455.0 780.0,492.5 777.5,530.0 770.0,555.0 760.0,570.0 750.0,585.0 735.0,605.0 725.0,630.0 720.0,645.0" fill="none" stroke="#000" stroke-width="1.0" stroke-linejoin="round"/>
<polyline points="785.0,380.0 792.5,405.0 795.0,442.5 790.0,480.0 785.0,517.5 780.0,542.5" fill="none" stroke="#000" stroke-width="1.0" stroke-linejoin="round"/>
<polyline points="545.0,585.0 555.0,595.0 570.0,605.0 575.0,630.0 580.0,655.0 570.0,680.0" fill="none" stroke="#000" stroke-width="1.0" stroke-linejoin="round"/>
<polyline points="545.0,630.0 560.0,635.0 570.0,655.0 565.0,680.0" fill="none" stroke="#000" stroke-width="1.0" stroke-linejoin="round"/>
<polygon points="587.5,642.5 595.0,640.0 600.0,657.5 592.5,660.0" fill="none" stroke="#000" stroke-width="1.0" stroke-linejoin="round"/>
<polygon points="615.0,642.5 627.5,630.0 635.0,637.5 632.5,660.0 620.0,657.5" fill="none" stroke="#000" stroke-width="1.0" stroke-linejoin="round"/>
<polyline points="657.5,585.0 662.5,605.0 665.0,630.0 660.0,655.0 657.5,680.0" fill="none" stroke="#000" stroke-width="1.0" stroke-linejoin="round"/>
<polygon points="522.5,290.5 525.5,283.0 536.0,296.5 545.0,293.5 548.0,292.0 560.0,290.5 569.0,292.0 566.0,298.0 552.5,302.5 536.0,302.5 525.5,295.0" fill="none" stroke="#000" stroke-width="1.8" stroke-linejoin="round"/>
<polygon points="512.0,286.0 515.0,268.0 524.0,260.5 539.0,272.5 545.0,283.0 563.0,284.5 575.0,287.5 584.0,293.5 585.5,304.0 569.0,310.0 548.0,313.0 534.5,313.0 521.0,310.0 512.0,301.0" fill="none" stroke="#000" stroke-width="1.0" stroke-linejoin="round"/>
<polygon points="507.5,268.0 512.0,256.0 521.0,250.0 536.0,248.5 554.0,247.0 560.0,250.0 561.5,259.0 557.0,271.0 569.0,277.0 587.0,284.5 590.0,295.0 585.5,307.0 569.0,313.0 548.0,316.0 530.0,319.0 515.0,316.0 507.5,301.0 506.0,283.0" fill="none" stroke="#000" stroke-width="1.0" stroke-linejoin="round"/>
<polyline points="504.5,253.0 512.0,244.0 530.0,241.0 557.0,239.5 566.0,244.0 570.5,253.0 572.0,271.0 590.0,280.0 599.0,289.0 600.5,298.0" fill="none" stroke="#000" stroke-width="1.0" stroke-linejoin="round"/>
<polyline points="518.0,319.0 530.0,325.0 545.0,326.5 560.0,319.0 575.0,314.5 590.0,313.0 605.0,314.5 620.0,319.0 635.0,325.0" fill="none" stroke="#000" stroke-width="1.8" stroke-linejoin="round"/>
<polyline points="522.5,326.5 533.0,329.5 545.0,328.0 560.0,325.0 578.0,323.5 590.0,323.5 600.5,334.0 599.0,343.0 587.0,349.0 578.0,353.5 570.5,367.0 563.0,373.0 551.0,370.0 545.0,367.0" fill="none" stroke="#000" stroke-width="1.0" stroke-linejoin="round"/>
<polyline points="609.5,260.5 615.5,250.0 627.5,244.0 635.0,241.0" fill="none" stroke="#000" stroke-width="1.0" stroke-linejoin="round"/>
<polyline points="614.0,298.0 617.0,283.0 618.5,268.0 627.5,260.5 635.0,257.5" fill="none" stroke="#000" stroke-width="1.0" stroke-linejoin="round"/>
<polyline points="624.5,263.5 626.0,283.0 632.0,293.5 635.0,292.0" fill="none" stroke="#000" stroke-width="1.0" stroke-linejoin="round"/>
<polyline points="540.5,403.0 545.0,385.0 548.0,367.0" fill="none" stroke="#000" stroke-width="1.0" stroke-linejoin="round"/>
<polyline points="557.0,403.0 560.0,388.0 569.0,382.0 590.0,382.0 605.0,374.5 620.0,367.0 635.0,373.0" fill="none" stroke="#000" stroke-width="1.0" stroke-linejoin="round"/>
<polyline points="582.5,382.0 597.5,377.5 612.5,373.0 635.0,371.5" fill="none" stroke="#000" stroke-width="1.8" stroke-linejoin="round"/>
<polygon points="638.0,262.0 641.0,253.0 644.0,251.5 650.0,257.5 648.5,268.0 644.0,275.5 638.0,271.0 635.0,265.0" fill="none" stroke="#000" stroke-width="1.0" stroke-linejoin="round"/>
<polygon points="626.0,262.0 629.0,256.0 635.0,248.5 644.0,247.0 654.5,247.0 657.5,253.0 656.0,262.0 650.0,275.5 644.0,290.5 635.0,292.0 630.5,283.0 627.5,271.0" fill="none" stroke="#000" stroke-width="1.8" stroke-linejoin="round"/>
<polyline points="635.0,292.0 638.0,301.0 644.0,302.5 650.0,298.0 653.0,292.0 648.5,289.0" fill="none" stroke="#000" stroke-width="1.8" stroke-linejoin="round"/>
<polyline points="614.0,283.0 617.0,268.0 623.0,253.0 632.0,244.0 642.5,238.0 653.0,238.0 662.0,244.0 663.5,253.0 659.0,268.0 656.0,283.0 654.5,298.0 659.0,313.0" fill="none" stroke="#000" stroke-width="1.0" stroke-linejoin="round"/>
<polyline points="641.0,217.0 650.0,214.0 659.0,212.5 668.0,215.5 674.0,223.0 677.0,238.0 677.0,253.0 674.0,268.0 677.0,283.0 680.0,298.0 683.0,313.0" fill="none" stroke="#000" stroke-width="1.0" stroke-linejoin="round"/>
<polyline points="545.0,241.0 554.0,239.5 563.0,245.5 569.0,253.0 570.5,268.0 575.0,272.5 590.0,275.5 602.0,274.0 608.0,262.0 608.0,253.0 609.5,244.0 623.0,241.0 635.0,235.0 641.0,230.5" fill="none" stroke="#000" stroke-width="1.0" stroke-linejoin="round"/>
<polyline points="545.0,295.0 557.0,292.0 569.0,296.5 563.0,301.0 545.0,302.5" fill="none" stroke="#000" stroke-width="1.8" stroke-linejoin="round"/>
<polyline points="545.0,283.0 560.0,286.0 575.0,290.5 584.0,298.0 585.5,313.0" fill="none" stroke="#000" stroke-width="1.0" stroke-linejoin="round"/>
<polyline points="689.0,217.0 695.0,238.0 696.5,253.0 695.0,268.0 698.0,283.0 701.0,298.0" fill="none" stroke="#000" stroke-width="1.0" stroke-linejoin="round"/>
<polyline points="594.5,853.0 590.0,868.0 584.0,883.0 581.0,898.0 581.0,916.0 584.0,928.0 585.5,943.0 582.5,958.0 576.5,973.0 575.0,988.0 576.5,1003.0 581.0,1018.0 590.0,1025.5 602.0,1033.0" fill="none" stroke="#000" stroke-width="1.0" stroke-linejoin="round"/>
<polyline points="602.0,853.0 594.5,883.0 588.5,913.0 590.0,943.0 594.5,958.0 602.0,967.0 608.0,970.0" fill="none" stroke="#000" stroke-width="1.0" stroke-linejoin="round"/>
<polyline points="630.5,853.0 635.0,868.0 636.5,898.0 639.5,913.0 641.0,928.0 638.0,943.0 626.0,946.0 618.5,949.0" fill="none" stroke="#000" stroke-width="1.0" stroke-linejoin="round"/>
<polyline points="639.5,853.0 642.5,875.5 648.5,898.0 656.0,913.0 657.5,928.0 654.5,943.0 642.5,958.0 629.0,973.0 620.0,988.0 617.0,1003.0 615.5,1018.0 617.0,1033.0" fill="none" stroke="#000" stroke-width="1.0" stroke-linejoin="round"/>
<polyline points="647.0,853.0 650.0,883.0 657.5,905.5 659.0,928.0 656.0,950.5 641.0,967.0 632.0,985.0 629.0,1003.0 629.0,1018.0 633.5,1033.0" fill="none" stroke="#000" stroke-width="1.0" stroke-linejoin="round"/>
<polygon points="606.5,911.5 609.5,902.5 618.5,899.5 623.0,902.5 626.0,913.0 623.0,920.5 618.5,923.5 611.0,919.0" fill="none" stroke="#000" stroke-width="2.0" stroke-linejoin="round"/>
<polygon points="585.5,997.0 590.0,988.0 596.0,994.0 597.5,1003.0 594.5,1010.5 588.5,1012.0 585.5,1004.5" fill="none" stroke="#000" stroke-width="2.0" stroke-linejoin="round"/>
<polygon points="618.5,997.0 627.5,992.5 635.0,1000.0 636.5,1012.0 630.5,1019.5 621.5,1021.0 617.0,1012.0" fill="none" stroke="#000" stroke-width="1.0" stroke-linejoin="round"/>
<polyline points="549.5,919.0 554.0,937.0 557.0,943.0 561.5,928.0 564.5,913.0 567.5,898.0 572.0,883.0 575.0,868.0 578.0,853.0" fill="none" stroke="#000" stroke-width="1.0" stroke-linejoin="round"/>
<polyline points="545.0,878.5 552.5,871.0 560.0,862.0 563.0,853.0" fill="none" stroke="#000" stroke-width="1.0" stroke-linejoin="round"/>
<polyline points="545.0,973.0 554.0,988.0 560.0,1003.0 563.0,1018.0 561.5,1033.0" fill="none" stroke="#000" stroke-width="1.0" stroke-linejoin="round"/>
<polygon points="504.3,556.4 511.8,548.8 523.9,550.3 531.4,559.4 531.4,571.4 523.9,577.5 511.8,576.0 504.3,568.4" fill="none" stroke="#000" stroke-width="1.8" stroke-linejoin="round"/>
<polygon points="508.8,559.4 514.8,554.8 522.4,557.9 523.9,568.4 514.8,571.4 508.8,566.9" fill="none" stroke="#000" stroke-width="1.0" stroke-linejoin="round"/>
<polygon points="513.3,560.9 514.8,559.4 516.3,561.6 514.8,563.1" fill="none" stroke="#000" stroke-width="1.0" stroke-linejoin="round"/>
<polygon points="495.2,553.3 505.8,542.8 523.9,541.3 536.0,550.3 539.0,568.4 531.4,580.5 514.8,583.5 499.8,577.5 493.7,565.4" fill="none" stroke="#000" stroke-width="1.0" stroke-linejoin="round"/>
<polyline points="528.4,493.0 529.9,505.1 526.9,515.6 523.9,523.2 529.9,529.2 545.0,530.7" fill="none" stroke="#000" stroke-width="1.0" stroke-linejoin="round"/>
<polyline points="545.0,586.5 532.9,591.0 523.9,598.6 520.9,613.7 523.9,628.8 520.9,643.8 511.8,655.9 499.8,666.5 493.7,674.0" fill="none" stroke="#000" stroke-width="1.0" stroke-linejoin="round"/>
<polyline points="505.8,583.5 511.8,598.6 508.8,613.7 505.8,628.8 496.7,637.8 484.7,643.8 469.6,651.4 460.5,661.9" fill="none" stroke="#000" stroke-width="1.0" stroke-linejoin="round"/>
<polyline points="588.0,392.0 590.0,384.0 604.0,378.0 620.0,375.0 640.0,373.0 654.0,375.0 660.0,384.0 659.0,400.0 662.0,412.0" fill="none" stroke="#000" stroke-width="1.8" stroke-linejoin="round"/>
<polyline points="612.0,392.0 620.0,386.0 636.0,384.0 648.0,388.0 652.0,400.0 648.0,412.0" fill="none" stroke="#000" stroke-width="1.0" stroke-linejoin="round"/>
<polyline points="512.0,316.0 532.0,326.0 548.0,318.0 570.0,314.0 592.0,312.0 608.0,316.0 628.0,320.0 640.0,326.0 644.0,340.0 636.0,360.0 612.0,366.0 596.0,372.0 580.0,380.0 560.0,380.0 548.0,372.0 540.0,384.0 530.0,408.0" fill="none" stroke="#000" stroke-width="1.0" stroke-linejoin="round"/>
<polyline points="664.0,260.0 668.0,284.0 676.0,316.0 680.0,330.0 676.0,356.0 700.0,364.0 720.0,372.0 740.0,376.0" fill="none" stroke="#000" stroke-width="1.0" stroke-linejoin="round"/>
<polyline points="680.0,260.0 688.0,280.0 700.0,300.0 710.0,308.0 740.0,302.0" fill="none" stroke="#000" stroke-width="1.0" stroke-linejoin="round"/>
<path d="M511.5,132 L501.5,1116" fill="none" stroke="#fff" stroke-width="1.3"/>
<path d="M661.5,132 L660.5,1116" fill="none" stroke="#fff" stroke-width="1.3"/>
<path d="M811.5,132 L820.5,1116" fill="none" stroke="#fff" stroke-width="1.3"/>
<path d="M364,185.2 Q661,186.79999999999998 835,186.0" fill="none" stroke="#fff" stroke-width="1.3"/>
<path d="M364,383.5 Q661,385.85 835,384.8" fill="none" stroke="#fff" stroke-width="1.3"/>
<path d="M364,581.5 Q661,585.2499999999999 835,583.2" fill="none" stroke="#fff" stroke-width="1.3"/>
<path d="M364,779.5 Q661,784.25 835,782.0" fill="none" stroke="#fff" stroke-width="1.3"/>
<path d="M364,978.0 Q661,981.5000000000001 835,979.8" fill="none" stroke="#fff" stroke-width="1.3"/>
<rect x="418" y="185.5" width="362.5" height="876" fill="none" stroke="#fff" stroke-width="2.2" stroke-dasharray="16 6"/>
<polyline points="545.0,229.0 540.5,229.0 530.0,236.5 524.0,233.5 518.0,232.0 512.0,235.0 509.0,238.0 506.0,244.0 501.5,251.5 497.0,256.0 491.0,260.5 489.5,265.0 495.5,268.0 500.0,268.0 500.0,277.0 501.5,290.5 500.0,298.0 504.5,305.5 507.5,313.0 513.5,313.0 512.8,328.0 510.5,343.0 506.0,358.0 500.0,370.0 494.0,380.5 485.0,388.0 479.0,392.5 470.0,388.0 464.0,382.0 462.5,383.5 464.0,392.5 468.5,406.0 473.0,412.0 485.0,412.0 486.5,407.5 492.5,404.5 500.0,404.5 503.0,406.0 507.5,410.5 513.5,418.0 515.0,430.0 518.0,437.5 522.5,445.0 519.5,448.0 518.0,463.0 516.5,478.0 515.0,493.0 513.5,493.0 510.5,505.0 506.0,515.5 497.0,524.5 494.0,535.0 491.0,545.5 488.0,557.5 485.0,571.0 480.5,583.0 477.5,595.0 480.5,604.0 476.0,610.0 473.0,620.5 467.0,628.0 458.0,635.5 452.0,643.0 447.5,644.5 446.0,652.0 441.5,661.0 435.5,673.0 429.5,680.5 425.0,692.5 422.0,703.0 420.5,718.0 420.5,733.0 416.0,737.5 414.5,748.0 410.0,757.0 404.0,763.0 395.0,770.5 387.5,776.5 377.0,782.5 368.0,787.0 363.0,789.0" fill="none" stroke="#000" stroke-width="2.2" stroke-linejoin="round"/>
<polyline points="545.0,229.0 549.5,223.0 552.5,220.0 557.0,208.0 559.2,190.0 560.0,182.5 567.5,183.2 573.5,181.8 570.5,179.5 564.5,178.0 560.8,176.5 560.0,167.5 555.5,163.0 548.8,162.2 549.5,159.2 557.0,158.5 561.5,152.5 560.8,142.0 563.0,134.5 569.0,137.5 575.0,143.5 581.0,149.5 588.5,145.0 594.5,142.0 602.0,143.5 606.5,148.0 608.0,163.0 609.5,178.0 611.0,193.0 612.5,205.0 615.5,214.0 623.0,220.0 629.0,220.0 635.0,214.0 638.0,208.0 641.0,199.0 639.5,196.0 642.5,190.0 644.0,184.0 648.5,185.5 653.0,188.5 657.5,193.0 660.5,199.0 665.0,203.5 671.0,206.5 677.0,211.0 683.0,211.0 689.0,208.0 693.5,199.0 696.5,185.5 698.0,170.5 701.0,160.0 702.5,152.5 701.0,145.0 696.5,137.5 689.0,131.5" fill="none" stroke="#000" stroke-width="2.2" stroke-linejoin="round"/>
<polyline points="626.0,131.5 626.0,148.0 627.5,157.0 632.0,161.5 638.0,157.0 650.0,152.5 659.0,148.0 665.0,149.5 677.0,145.0 683.0,139.0 686.0,131.5" fill="none" stroke="#000" stroke-width="2.2" stroke-linejoin="round"/>
<polyline points="719.0,131.5 720.5,148.0 719.0,163.0 719.8,185.5 720.5,208.0 722.0,223.0 725.0,238.0" fill="none" stroke="#000" stroke-width="2.2" stroke-linejoin="round"/>
<polyline points="708.5,218.5 714.5,219.2 716.0,229.0 713.0,241.0 707.0,244.0 704.0,239.5 708.5,236.5 710.0,226.0" fill="none" stroke="#000" stroke-width="2.2" stroke-linejoin="round"/>
<polyline points="725.0,238.0 729.5,253.0 732.5,265.0 740.0,278.5 747.5,277.0 755.0,284.5 764.0,295.0 770.0,304.0 776.0,313.0 782.0,322.0 785.0,332.5 788.0,340.0 785.0,349.0 794.0,355.0 789.5,362.5 795.5,370.0 800.0,379.0 803.0,383.5 806.0,391.0 807.5,397.0 809.0,406.0 810.5,418.0 811.0,440.0 813.0,439.8 809.8,442.5 814.5,444.3 810.5,447.1 814.6,449.0 810.1,451.9 813.6,453.9 810.1,456.6 814.0,458.5 810.8,461.2 814.6,463.2 812.4,465.8 816.2,467.8 810.5,470.7 815.7,472.5 812.9,475.2 817.7,477.0 811.0,480.1 818.0,481.7 813.3,484.6 819.6,487.9 814.0,488.5 818.0,492.0 812.0,492.5 814.5,495.6 811.2,496.9 813.7,500.0 807.8,500.5 812.1,504.1 807.3,505.0 812.2,508.7 806.6,509.4 810.7,512.9 806.3,513.9 807.9,516.7 804.6,518.0 808.5,521.5 802.7,522.1 806.1,525.5 800.9,526.2 805.3,529.8 800.5,530.7 805.0,534.7 797.9,534.3 801.6,538.3 796.6,538.7 800.8,542.9 794.0,542.6 799.7,547.3 794.0,547.5 798.7,551.9 792.8,552.0 795.4,555.4 790.0,554.3 791.7,559.5 787.1,558.4 787.9,562.7 783.2,561.5 786.1,567.9 779.9,565.2 782.8,571.6 777.0,569.3 779.1,574.5 773.3,571.8 775.7,577.4 770.5,575.3 773.2,581.1 766.2,577.3 769.3,583.4 763.8,581.1 765.4,585.3 760.5,585.4 765.0,590.3 757.6,589.1 763.4,594.7 757.5,594.3 760.1,598.2 754.3,597.9 757.0,601.8 752.8,602.3 755.3,606.2 751.7,607.1 752.8,610.3 747.7,610.4 750.9,614.7 747.1,615.4 749.5,619.3 743.1,618.7 746.5,623.1 742.2,623.6 745.8,627.8 738.9,627.5 744.9,632.4 737.3,631.8 741.6,636.0 736.9,636.5 740.2,640.3 733.9,640.2 740.3,645.2 734.4,645.3 736.3,648.5 732.3,649.9 735.5,652.6 731.0,654.5 736.1,657.4 731.3,659.3 733.8,661.9 730.3,663.9 734.5,666.7 729.4,668.5 735.9,671.6 731.7,673.5 736.8,680.0 740.3,687.0 742.7,695.2 740.3,703.3 742.7,710.3 747.3,715.0 750.8,722.0 745.0,724.3 738.0,720.8 733.3,717.3 727.5,715.0 728.7,709.2 726.3,702.2 719.3,704.5 717.0,699.8 710.0,699.3 700.7,699.8 691.3,703.3 684.3,709.2 678.5,706.8 672.7,708.0 668.0,715.0 672.7,717.3 666.8,724.3 661.0,736.0 655.2,745.3 651.7,760.0 648.5,766.0 647.0,778.0 648.5,793.0 651.5,808.0 656.0,823.0 659.0,838.0 663.5,853.0 665.0,853.0 666.5,868.0 668.0,883.0 666.5,898.0 665.0,913.0 663.5,928.0 662.0,943.0 660.5,958.0 659.0,973.0 657.5,980.5 653.0,988.0 641.0,992.5 633.5,997.0 629.0,1003.0 627.5,1012.0 623.0,1018.0 620.0,1033.0 618.5,1033.0 615.5,1048.0 609.5,1057.0 605.0,1070.5 600.5,1081.0 599.0,1093.0 602.0,1102.0 597.5,1111.0 596.0,1117.0" fill="none" stroke="#000" stroke-width="2.2" stroke-linejoin="round"/>
<polyline points="808.9,390.3 804.4,394.6 810.2,396.5 805.1,400.5 809.5,402.8 805.4,406.4 812.6,408.6 806.3,412.4 813.4,414.6 808.4,418.0 812.7,420.7 809.4,423.5 813.5,426.2 809.7,429.0 811.9,431.7 809.3,434.5 812.3,437.2 809.1,440.2 812.3,442.5 810.6,445.3 813.1,447.6 810.9,450.5 814.3,452.7 811.6,455.6 816.4,457.8 810.4,461.0 814.7,463.2 812.0,466.1 815.8,468.3 812.2,471.3 815.7,473.6 811.2,476.6 818.8,478.5 812.9,481.7 817.8,483.9 814.6,486.4 816.1,489.6 812.3,491.3 815.0,495.0 809.3,496.1 813.1,500.0 810.1,502.0 813.8,505.9 807.1,506.7 810.0,510.4 805.5,511.9 808.1,515.5 804.0,517.1 809.3,521.5 801.5,522.0 806.9,526.5 801.6,527.7 804.4,531.4 800.4,532.9 803.7,537.2 797.3,537.7 801.6,542.4 795.8,543.1 798.0,546.9 792.4,547.7 798.0,553.0 790.2,552.8 794.7,559.0 788.0,556.3 790.6,562.9 785.3,561.6 786.1,566.4 781.0,565.3 781.1,569.4 777.7,570.0 777.6,573.9 773.2,573.5 774.5,578.8 767.7,576.1 770.0,582.4 763.8,580.2 767.8,586.5 759.9,585.4 763.8,590.3 759.5,591.1 761.1,594.8 757.2,595.8 758.7,599.4 753.7,599.8 758.2,605.0 750.8,604.2 754.8,609.1 748.9,609.1 753.3,614.2 748.1,614.6 750.6,618.7 743.6,618.2 748.5,623.6 741.7,623.1 745.5,627.7 740.9,628.9 744.3,633.2 738.4,633.9 742.2,638.4 734.6,638.3 739.0,643.1 734.1,644.1 738.5,648.9 730.9,649.8 735.1,652.8 732.2,655.2 734.6,658.0 729.4,660.1 736.0,663.4 731.1,665.6 735.6,668.6 728.1,670.5 734.0,671.7 731.9,676.9 737.1,676.3 735.6,680.6 738.8,681.9 735.7,686.4 743.0,686.2 738.7,690.4 745.5,691.4 740.6,694.6 745.3,698.9 737.9,699.6 740.3,703.3" fill="none" stroke="#000" stroke-width="2.2" stroke-linejoin="round"/>
<circle cx="613.3" cy="238.7" r="3.7" fill="#fff"/>
<text x="622.9" y="244.3" font-size="16.5" font-weight="bold" fill="#fff" style="fill:#fff" textLength="71.5" lengthAdjust="spacingAndGlyphs">AomoriAP</text>
<circle cx="720.2" cy="249.7" r="3.7" fill="#fff"/>
<text x="729.3" y="255.3" font-size="16.5" font-weight="bold" fill="#fff" style="fill:#fff" textLength="75.3" lengthAdjust="spacingAndGlyphs">MisawaAD</text>
<circle cx="688" cy="495" r="3.7" fill="#fff"/>
<text x="698" y="500.6" font-size="16.5" font-weight="bold" fill="#fff" style="fill:#fff" textLength="93.0" lengthAdjust="spacingAndGlyphs">HanamakiAP</text>
<circle cx="655.6" cy="730.4" r="3.7" fill="#fff"/>
<text x="665" y="736.0" font-size="16.5" font-weight="bold" fill="#fff" style="fill:#fff" textLength="116.0" lengthAdjust="spacingAndGlyphs">KasuminomeAD</text>
<circle cx="634.4" cy="784" r="3.7" fill="#fff"/>
<text x="644" y="789.6" font-size="16.5" font-weight="bold" fill="#fff" style="fill:#fff" textLength="77.0" lengthAdjust="spacingAndGlyphs">KakudaGP</text>
<circle cx="570.4" cy="816.4" r="3.7" fill="#fff"/>
<text x="580" y="822.0" font-size="16.5" font-weight="bold" fill="#fff" style="fill:#fff" textLength="100.0" lengthAdjust="spacingAndGlyphs">FukushimaSP</text>
<circle cx="570.2" cy="933.2" r="3.7" fill="#fff"/>
<text x="580" y="938.8" font-size="16.5" font-weight="bold" fill="#fff" style="fill:#fff" textLength="100.0" lengthAdjust="spacingAndGlyphs">FukushimaAP</text>
<circle cx="506.6" cy="986.9" r="3.7" fill="#fff"/>
<text x="515.7" y="992.5" font-size="16.5" font-weight="bold" fill="#fff" style="fill:#fff" textLength="75.3" lengthAdjust="spacingAndGlyphs">KuroisoSF</text>
<circle cx="496.1" cy="1038.8" r="3.7" fill="#fff"/>
<text x="504.7" y="1044.4" font-size="16.5" font-weight="bold" fill="#fff" style="fill:#fff" textLength="93.5" lengthAdjust="spacingAndGlyphs">KinugawaGP</text>
</g>
<rect x="364.5" y="132.5" width="470" height="983" fill="none" stroke="#000" stroke-width="1.2"/>
<text x="493.5" y="133.5" font-size="16" font-weight="bold" stroke="#000" stroke-width="0.5" textLength="36.0" lengthAdjust="spacingAndGlyphs">140E</text>
<text x="642" y="133.5" font-size="16" font-weight="bold" stroke="#000" stroke-width="0.5" textLength="37.5" lengthAdjust="spacingAndGlyphs">141E</text>
<text x="792.8" y="133.5" font-size="16" font-weight="bold" stroke="#000" stroke-width="0.5" textLength="36.2" lengthAdjust="spacingAndGlyphs">142E</text>
<text x="483.5" y="1112.5" font-size="16" font-weight="bold" stroke="#000" stroke-width="0.5" textLength="36.0" lengthAdjust="spacingAndGlyphs">140E</text>
<text x="641.8" y="1112.5" font-size="16" font-weight="bold" stroke="#000" stroke-width="0.5" textLength="36.7" lengthAdjust="spacingAndGlyphs">141E</text>
<text x="338" y="191.3" font-size="16" font-weight="bold" stroke="#000" stroke-width="0.5" textLength="30.0" lengthAdjust="spacingAndGlyphs">41N</text>
<text x="334" y="388.6" font-size="16" font-weight="bold" stroke="#000" stroke-width="0.5" textLength="34.0" lengthAdjust="spacingAndGlyphs">40N</text>
<text x="330" y="587.2" font-size="16" font-weight="bold" stroke="#000" stroke-width="0.5" textLength="30.0" lengthAdjust="spacingAndGlyphs">39N</text>
<text x="326" y="785.2" font-size="16" font-weight="bold" stroke="#000" stroke-width="0.5" textLength="30.4" lengthAdjust="spacingAndGlyphs">38N</text>
<text x="379" y="984.2" font-size="16" font-weight="bold" stroke="#000" stroke-width="0.5" textLength="29.5" lengthAdjust="spacingAndGlyphs">37N</text>
<text x="818" y="192.9" font-size="16" font-weight="bold" stroke="#000" stroke-width="0.5" textLength="29.0" lengthAdjust="spacingAndGlyphs">41N</text>
<text x="820" y="391" font-size="16" font-weight="bold" stroke="#000" stroke-width="0.5" textLength="29.0" lengthAdjust="spacingAndGlyphs">40N</text>
<text x="821" y="589.7" font-size="16" font-weight="bold" stroke="#000" stroke-width="0.5" textLength="30.0" lengthAdjust="spacingAndGlyphs">39N</text>
<text x="823" y="788" font-size="16" font-weight="bold" stroke="#000" stroke-width="0.5" textLength="30.0" lengthAdjust="spacingAndGlyphs">38N</text>
<text x="825" y="986" font-size="16" font-weight="bold" stroke="#000" stroke-width="0.5" textLength="30.0" lengthAdjust="spacingAndGlyphs">37N</text>
<rect x="156.00" y="1146.3" width="52.12" height="10" fill="#0000f0" stroke="#000" stroke-width="1"/>
<rect x="208.12" y="1146.3" width="52.12" height="10" fill="#0050f0" stroke="#000" stroke-width="1"/>
<rect x="260.24" y="1146.3" width="52.12" height="10" fill="#00bef0" stroke="#000" stroke-width="1"/>
<rect x="312.35" y="1146.3" width="52.12" height="10" fill="#00f0e0" stroke="#000" stroke-width="1"/>
<rect x="364.47" y="1146.3" width="52.12" height="10" fill="#00d28c" stroke="#000" stroke-width="1"/>
<rect x="416.59" y="1146.3" width="52.12" height="10" fill="#00b428" stroke="#000" stroke-width="1"/>
<rect x="468.71" y="1146.3" width="52.12" height="10" fill="#46c800" stroke="#000" stroke-width="1"/>
<rect x="520.82" y="1146.3" width="52.12" height="10" fill="#a5e10a" stroke="#000" stroke-width="1"/>
<rect x="572.94" y="1146.3" width="52.12" height="10" fill="#ffff00" stroke="#000" stroke-width="1"/>
<rect x="625.06" y="1146.3" width="52.12" height="10" fill="#ffe000" stroke="#000" stroke-width="1"/>
<rect x="677.18" y="1146.3" width="52.12" height="10" fill="#ffbe00" stroke="#000" stroke-width="1"/>
<rect x="729.29" y="1146.3" width="52.12" height="10" fill="#ff9600" stroke="#000" stroke-width="1"/>
<rect x="781.41" y="1146.3" width="52.12" height="10" fill="#ff5a00" stroke="#000" stroke-width="1"/>
<rect x="833.53" y="1146.3" width="52.12" height="10" fill="#ff1e00" stroke="#000" stroke-width="1"/>
<rect x="885.65" y="1146.3" width="52.12" height="10" fill="#dc0028" stroke="#000" stroke-width="1"/>
<rect x="937.76" y="1146.3" width="52.12" height="10" fill="#a00050" stroke="#000" stroke-width="1"/>
<rect x="989.88" y="1146.3" width="52.12" height="10" fill="#640090" stroke="#000" stroke-width="1"/>
<text x="156.00" y="1178.7" font-size="22" stroke="#000" stroke-width="0.7" text-anchor="middle">0</text>
<text x="208.12" y="1178.7" font-size="22" stroke="#000" stroke-width="0.7" text-anchor="middle">10</text>
<text x="260.24" y="1178.7" font-size="22" stroke="#000" stroke-width="0.7" text-anchor="middle">20</text>
<text x="312.35" y="1178.7" font-size="22" stroke="#000" stroke-width="0.7" text-anchor="middle">30</text>
<text x="364.47" y="1178.7" font-size="22" stroke="#000" stroke-width="0.7" text-anchor="middle">40</text>
<text x="416.59" y="1178.7" font-size="22" stroke="#000" stroke-width="0.7" text-anchor="middle">50</text>
<text x="468.71" y="1178.7" font-size="22" stroke="#000" stroke-width="0.7" text-anchor="middle">60</text>
<text x="520.82" y="1178.7" font-size="22" stroke="#000" stroke-width="0.7" text-anchor="middle">70</text>
<text x="572.94" y="1178.7" font-size="22" stroke="#000" stroke-width="0.7" text-anchor="middle">80</text>
<text x="625.06" y="1178.7" font-size="22" stroke="#000" stroke-width="0.7" text-anchor="middle">90</text>
<text x="677.18" y="1178.7" font-size="22" stroke="#000" stroke-width="0.7" text-anchor="middle">100</text>
<text x="729.29" y="1178.7" font-size="22" stroke="#000" stroke-width="0.7" text-anchor="middle">110</text>
<text x="781.41" y="1178.7" font-size="22" stroke="#000" stroke-width="0.7" text-anchor="middle">120</text>
<text x="833.53" y="1178.7" font-size="22" stroke="#000" stroke-width="0.7" text-anchor="middle">130</text>
<text x="885.65" y="1178.7" font-size="22" stroke="#000" stroke-width="0.7" text-anchor="middle">140</text>
<text x="937.76" y="1178.7" font-size="22" stroke="#000" stroke-width="0.7" text-anchor="middle">150</text>
<text x="989.88" y="1178.7" font-size="22" stroke="#000" stroke-width="0.7" text-anchor="middle">160</text>
<text x="1042.00" y="1178.7" font-size="22" stroke="#000" stroke-width="0.7" text-anchor="middle">170</text>
<text x="51.3" y="1171" font-size="22" stroke="#000" stroke-width="0.6" textLength="56.7" lengthAdjust="spacingAndGlyphs">[J/kg]</text>
<text x="1091.3" y="1171" font-size="22" stroke="#000" stroke-width="0.6" textLength="56.7" lengthAdjust="spacingAndGlyphs">[J/kg]</text>
<text x="628.4" y="1137" font-size="18.5" stroke="#000" stroke-width="0.6" textLength="201.6" lengthAdjust="spacingAndGlyphs">Terrain contours: 500 ft</text>
</svg></body></html>
